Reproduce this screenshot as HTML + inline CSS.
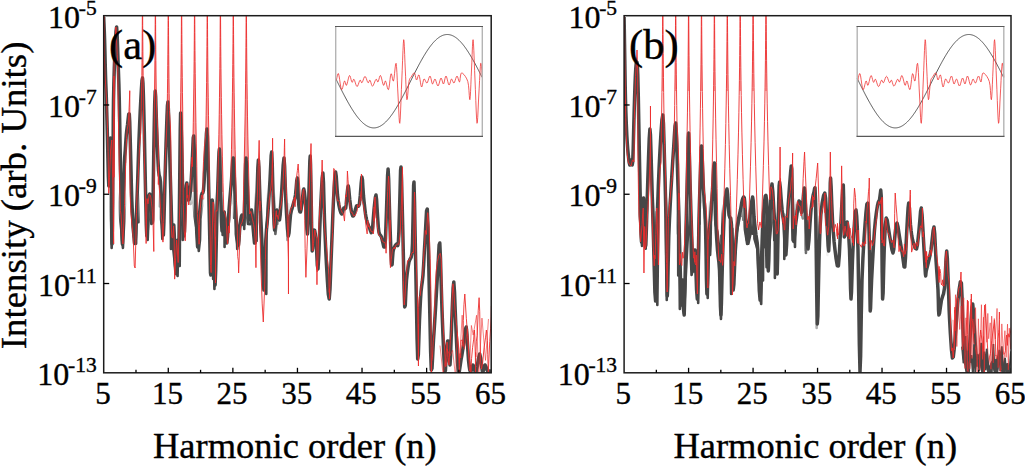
<!DOCTYPE html>
<html><head><meta charset="utf-8"><style>
html,body{margin:0;padding:0;background:#fff;width:1025px;height:466px;overflow:hidden}
svg{display:block}
</style></head><body>
<svg width="1025" height="466" viewBox="0 0 1025 466">
<defs>
<clipPath id="c0"><rect x="103.7" y="15.7" width="387.5" height="357.1"/></clipPath>
<linearGradient id="gv0" x1="0" y1="192" x2="0" y2="222" gradientUnits="userSpaceOnUse"><stop offset="0" stop-color="#fff" stop-opacity="0"/><stop offset="1" stop-color="#fff" stop-opacity="1"/></linearGradient>
<linearGradient id="gh0" x1="108" y1="0" x2="300" y2="0" gradientUnits="userSpaceOnUse"><stop offset="0" stop-color="#fff" stop-opacity="1"/><stop offset="0.85" stop-color="#fff" stop-opacity="1"/><stop offset="1" stop-color="#fff" stop-opacity="0"/></linearGradient>
<mask id="v0" maskUnits="userSpaceOnUse" x="0" y="0" width="1025" height="466"><rect x="108" y="192" width="192" height="180.8" fill="url(#gv0)"/></mask>
<mask id="h0" maskUnits="userSpaceOnUse" x="0" y="0" width="1025" height="466"><rect x="108" y="0" width="192" height="466" fill="url(#gh0)"/></mask>
<clipPath id="c1"><rect x="624.1" y="15.7" width="386.9" height="357.1"/></clipPath>
<linearGradient id="gv1" x1="0" y1="197" x2="0" y2="227" gradientUnits="userSpaceOnUse"><stop offset="0" stop-color="#fff" stop-opacity="0"/><stop offset="1" stop-color="#fff" stop-opacity="1"/></linearGradient>
<linearGradient id="gh1" x1="628" y1="0" x2="830" y2="0" gradientUnits="userSpaceOnUse"><stop offset="0" stop-color="#fff" stop-opacity="1"/><stop offset="0.85" stop-color="#fff" stop-opacity="1"/><stop offset="1" stop-color="#fff" stop-opacity="0"/></linearGradient>
<mask id="v1" maskUnits="userSpaceOnUse" x="0" y="0" width="1025" height="466"><rect x="628" y="197" width="202" height="175.8" fill="url(#gv1)"/></mask>
<mask id="h1" maskUnits="userSpaceOnUse" x="0" y="0" width="1025" height="466"><rect x="628" y="0" width="202" height="466" fill="url(#gh1)"/></mask>
</defs>
<g clip-path="url(#c0)">
<path d="M103.72,19.00 L103.75,13.00 L103.78,7.00 L103.81,1.00 L103.83,-5.00 L103.84,-11.00 L103.86,-17.00 L103.87,-23.00 L103.88,-29.00 L103.88,-30.00 L103.92,-30.00 L103.92,-29.00 L103.93,-23.00 L103.94,-17.00 L103.96,-11.00 L103.97,-5.00 L103.99,1.00 L104.02,7.00 L104.05,13.00 L104.08,19.00Z" fill="#f5a3a3"/>
<path d="M141.81,80.00 L141.95,66.80 L142.07,55.18 L142.15,44.96 L142.22,35.97 L142.27,28.05 L142.31,21.08 L142.35,14.95 L142.37,8.95 L142.40,2.95 L142.42,-3.05 L142.44,-9.05 L142.45,-15.05 L142.47,-21.05 L142.48,-27.05 L142.48,-30.00 L142.52,-30.00 L142.52,-27.05 L142.53,-21.05 L142.55,-15.05 L142.56,-9.05 L142.58,-3.05 L142.60,2.95 L142.63,8.95 L142.65,14.95 L142.69,21.08 L142.73,28.05 L142.78,35.97 L142.85,44.96 L142.93,55.18 L143.05,66.80 L143.19,80.00Z" fill="#f5a3a3"/>
<path d="M154.54,93.00 L154.73,78.24 L154.87,65.25 L154.98,53.82 L155.06,43.76 L155.13,34.91 L155.18,27.12 L155.22,20.27 L155.25,14.24 L155.28,8.24 L155.30,2.24 L155.32,-3.76 L155.34,-9.76 L155.36,-15.76 L155.37,-21.76 L155.38,-27.76 L155.38,-30.00 L155.42,-30.00 L155.42,-27.76 L155.43,-21.76 L155.44,-15.76 L155.46,-9.76 L155.48,-3.76 L155.50,2.24 L155.52,8.24 L155.55,14.24 L155.58,20.27 L155.62,27.12 L155.67,34.91 L155.74,43.76 L155.82,53.82 L155.93,65.25 L156.07,78.24 L156.26,93.00Z" fill="#f5a3a3"/>
<path d="M167.29,104.00 L167.51,87.92 L167.68,73.77 L167.81,61.32 L167.91,50.36 L167.99,40.72 L168.05,32.23 L168.09,24.76 L168.13,18.19 L168.16,12.19 L168.19,6.19 L168.21,0.19 L168.23,-5.81 L168.25,-11.81 L168.26,-17.81 L168.27,-23.81 L168.28,-29.81 L168.28,-30.00 L168.32,-30.00 L168.32,-29.81 L168.33,-23.81 L168.34,-17.81 L168.35,-11.81 L168.37,-5.81 L168.39,0.19 L168.41,6.19 L168.44,12.19 L168.47,18.19 L168.51,24.76 L168.55,32.23 L168.61,40.72 L168.69,50.36 L168.79,61.32 L168.92,73.77 L169.09,87.92 L169.31,104.00Z" fill="#f5a3a3"/>
<path d="M179.50,162.00 L179.99,138.96 L180.35,118.68 L180.63,100.84 L180.84,85.14 L181.01,71.32 L181.13,59.17 L181.22,48.47 L181.30,39.05 L181.36,30.76 L181.40,23.47 L181.43,17.06 L181.46,11.06 L181.49,5.06 L181.51,-0.94 L181.53,-6.94 L181.55,-12.94 L181.56,-18.94 L181.58,-24.94 L181.58,-30.00 L181.62,-30.00 L181.62,-24.94 L181.64,-18.94 L181.65,-12.94 L181.67,-6.94 L181.69,-0.94 L181.71,5.06 L181.74,11.06 L181.77,17.06 L181.80,23.47 L181.84,30.76 L181.90,39.05 L181.98,48.47 L182.07,59.17 L182.19,71.32 L182.36,85.14 L182.57,100.84 L182.85,118.68 L183.21,138.96 L183.70,162.00Z" fill="#f5a3a3"/>
<path d="M191.76,192.00 L192.43,165.36 L192.93,141.92 L193.31,121.29 L193.60,103.13 L193.82,87.16 L193.99,73.10 L194.11,60.73 L194.21,49.84 L194.29,40.26 L194.35,31.83 L194.39,24.41 L194.43,17.88 L194.46,11.88 L194.49,5.88 L194.51,-0.12 L194.53,-6.12 L194.55,-12.12 L194.56,-18.12 L194.57,-24.12 L194.58,-30.00 L194.62,-30.00 L194.63,-24.12 L194.64,-18.12 L194.65,-12.12 L194.67,-6.12 L194.69,-0.12 L194.71,5.88 L194.74,11.88 L194.77,17.88 L194.81,24.41 L194.85,31.83 L194.91,40.26 L194.99,49.84 L195.09,60.73 L195.21,73.10 L195.38,87.16 L195.60,103.13 L195.89,121.29 L196.27,141.92 L196.77,165.36 L197.44,192.00Z" fill="#f5a3a3"/>
<path d="M205.84,131.00 L206.17,111.68 L206.42,94.68 L206.61,79.72 L206.76,66.55 L206.87,54.96 L206.95,44.77 L207.02,35.80 L207.07,27.90 L207.11,20.95 L207.15,14.84 L207.17,8.84 L207.20,2.84 L207.22,-3.16 L207.24,-9.16 L207.25,-15.16 L207.27,-21.16 L207.28,-27.16 L207.28,-30.00 L207.32,-30.00 L207.32,-27.16 L207.33,-21.16 L207.35,-15.16 L207.36,-9.16 L207.38,-3.16 L207.40,2.84 L207.43,8.84 L207.45,14.84 L207.49,20.95 L207.53,27.90 L207.58,35.80 L207.65,44.77 L207.73,54.96 L207.84,66.55 L207.99,79.72 L208.18,94.68 L208.43,111.68 L208.76,131.00Z" fill="#f5a3a3"/>
<path d="M217.56,192.00 L218.23,165.36 L218.73,141.92 L219.11,121.29 L219.40,103.13 L219.62,87.16 L219.79,73.10 L219.91,60.73 L220.01,49.84 L220.09,40.26 L220.15,31.83 L220.19,24.41 L220.23,17.88 L220.26,11.88 L220.29,5.88 L220.31,-0.12 L220.33,-6.12 L220.35,-12.12 L220.36,-18.12 L220.37,-24.12 L220.38,-30.00 L220.42,-30.00 L220.43,-24.12 L220.44,-18.12 L220.45,-12.12 L220.47,-6.12 L220.49,-0.12 L220.51,5.88 L220.54,11.88 L220.57,17.88 L220.61,24.41 L220.65,31.83 L220.71,40.26 L220.79,49.84 L220.89,60.73 L221.01,73.10 L221.18,87.16 L221.40,103.13 L221.69,121.29 L222.07,141.92 L222.57,165.36 L223.24,192.00Z" fill="#f5a3a3"/>
<path d="M231.25,160.00 L231.72,137.20 L232.08,117.14 L232.35,99.48 L232.56,83.94 L232.72,70.27 L232.84,58.24 L232.93,47.65 L233.00,38.33 L233.06,30.13 L233.10,22.92 L233.14,16.57 L233.17,10.57 L233.19,4.57 L233.21,-1.43 L233.23,-7.43 L233.25,-13.43 L233.26,-19.43 L233.28,-25.43 L233.28,-30.00 L233.32,-30.00 L233.32,-25.43 L233.34,-19.43 L233.35,-13.43 L233.37,-7.43 L233.39,-1.43 L233.41,4.57 L233.43,10.57 L233.46,16.57 L233.50,22.92 L233.54,30.13 L233.60,38.33 L233.67,47.65 L233.76,58.24 L233.88,70.27 L234.04,83.94 L234.25,99.48 L234.52,117.14 L234.88,137.20 L235.35,160.00Z" fill="#f5a3a3"/>
<path d="M244.25,160.00 L244.72,137.20 L245.08,117.14 L245.35,99.48 L245.56,83.94 L245.72,70.27 L245.84,58.24 L245.93,47.65 L246.00,38.33 L246.06,30.13 L246.10,22.92 L246.14,16.57 L246.17,10.57 L246.19,4.57 L246.21,-1.43 L246.23,-7.43 L246.25,-13.43 L246.26,-19.43 L246.28,-25.43 L246.28,-30.00 L246.32,-30.00 L246.32,-25.43 L246.34,-19.43 L246.35,-13.43 L246.37,-7.43 L246.39,-1.43 L246.41,4.57 L246.43,10.57 L246.46,16.57 L246.50,22.92 L246.54,30.13 L246.60,38.33 L246.67,47.65 L246.76,58.24 L246.88,70.27 L247.04,83.94 L247.25,99.48 L247.52,117.14 L247.88,137.20 L248.35,160.00Z" fill="#f5a3a3"/>
<path d="M103.70,17.00 L103.93,22.52 L104.27,30.59 L104.60,40.00 L104.90,51.15 L105.20,63.63 L105.50,75.00 L105.79,83.52 L106.09,90.93 L106.40,100.00 L106.74,112.00 L107.11,125.67 L107.50,140.00 L107.92,157.93 L108.37,176.52 L108.80,186.00 L109.23,179.11 L109.64,163.11 L110.00,150.00 L110.27,142.52 L110.49,137.93 L110.70,140.00 L110.93,152.07 L111.17,170.81 L111.40,190.00 L111.63,212.81 L111.85,236.07 L112.10,244.00 L112.40,225.33 L112.72,191.33 L113.00,160.00 L113.17,137.67 L113.29,118.00 L113.50,100.00 L113.86,83.26 L114.30,68.19 L114.80,55.00 L115.38,42.15 L116.01,31.19 L116.60,27.00 L117.10,33.22 L117.56,46.22 L118.00,60.00 L118.44,71.70 L118.88,84.19 L119.30,100.00 L119.71,122.04 L120.12,147.41 L120.50,170.00 L120.85,187.44 L121.18,202.11 L121.50,215.00 L121.80,228.56 L122.10,240.33 L122.40,244.00 L122.73,234.48 L123.06,216.85 L123.40,200.00 L123.74,186.26 L124.07,173.30 L124.40,163.00 L124.70,156.96 L125.00,153.59 L125.30,150.00 L125.62,144.96 L125.95,139.70 L126.30,135.00 L126.66,131.33 L127.05,128.22 L127.50,125.00 L128.08,119.67 L128.72,114.22 L129.30,114.00 L129.74,122.00 L130.11,135.22 L130.50,150.00 L130.91,166.37 L131.33,184.30 L131.80,200.00 L132.34,212.11 L132.93,222.00 L133.50,230.00 L134.03,237.67 L134.55,243.44 L135.10,243.00 L135.71,233.44 L136.35,217.67 L137.00,200.00 L137.67,180.52 L138.34,159.15 L139.00,140.00 L139.62,124.52 L140.21,111.26 L140.80,100.00 L141.39,89.33 L141.97,80.67 L142.50,78.00 L142.96,83.26 L143.37,94.52 L143.80,110.00 L144.29,131.04 L144.79,156.30 L145.30,180.00 L145.79,203.11 L146.29,224.67 L146.80,236.00 L147.35,229.67 L147.92,213.11 L148.50,200.00 L149.11,195.30 L149.74,194.04 L150.30,195.00 L150.74,198.70 L151.12,204.63 L151.50,210.00 L151.90,216.67 L152.31,222.78 L152.70,220.00 L153.06,202.19 L153.41,175.48 L153.80,150.00 L154.24,125.89 L154.71,103.00 L155.20,91.00 L155.68,96.70 L156.17,113.30 L156.70,130.00 L157.27,144.30 L157.87,158.70 L158.50,170.00 L159.17,175.30 L159.86,177.48 L160.50,182.00 L161.04,191.93 L161.53,204.19 L162.00,215.00 L162.47,225.41 L162.92,234.37 L163.40,235.00 L163.92,222.04 L164.47,200.74 L165.00,180.00 L165.51,162.15 L166.01,144.85 L166.50,130.00 L166.97,116.59 L167.44,105.63 L167.90,102.00 L168.36,108.96 L168.81,123.26 L169.30,140.00 L169.85,158.93 L170.44,180.30 L171.00,200.00 L171.52,218.52 L172.02,235.37 L172.50,245.00 L172.94,240.93 L173.36,229.63 L173.80,225.00 L174.29,235.11 L174.81,251.89 L175.30,265.00 L175.75,271.22 L176.18,273.78 L176.60,272.00 L177.02,262.22 L177.43,248.11 L177.80,240.00 L178.09,246.81 L178.33,259.63 L178.60,262.00 L178.92,245.15 L179.26,217.85 L179.60,190.00 L179.92,160.11 L180.24,129.67 L180.60,113.00 L181.02,118.41 L181.48,137.59 L182.00,160.00 L182.61,187.33 L183.27,217.89 L183.90,236.00 L184.47,231.59 L185.00,214.74 L185.50,200.00 L185.94,191.67 L186.35,185.44 L186.80,183.00 L187.33,187.15 L187.90,195.07 L188.50,200.00 L189.15,199.41 L189.84,195.81 L190.50,190.00 L191.13,181.26 L191.74,170.30 L192.30,160.00 L192.79,148.67 L193.23,138.00 L193.70,136.00 L194.19,148.11 L194.71,168.89 L195.30,190.00 L196.03,212.07 L196.84,234.48 L197.60,247.00 L198.26,242.48 L198.87,228.07 L199.50,215.00 L200.16,206.89 L200.83,200.11 L201.50,195.00 L202.17,193.15 L202.85,192.96 L203.50,190.00 L204.12,181.89 L204.72,171.00 L205.30,160.00 L205.86,147.07 L206.39,134.04 L206.90,129.00 L207.38,136.26 L207.83,151.52 L208.30,170.00 L208.81,192.48 L209.33,218.19 L209.80,240.00 L210.16,258.33 L210.46,272.78 L210.80,275.00 L211.24,253.89 L211.73,220.56 L212.20,200.00 L212.63,204.63 L213.05,222.04 L213.50,240.00 L214.01,258.70 L214.55,277.96 L215.10,285.00 L215.67,270.74 L216.25,244.26 L216.80,220.00 L217.30,202.81 L217.76,187.85 L218.20,175.00 L218.61,162.44 L219.01,152.00 L219.40,149.00 L219.79,157.70 L220.19,173.85 L220.60,190.00 L221.02,205.89 L221.47,221.78 L222.00,231.00 L222.66,227.26 L223.41,216.85 L224.20,212.00 L225.05,221.00 L225.95,235.56 L226.80,243.00 L227.55,236.63 L228.26,223.15 L229.00,210.00 L229.84,199.48 L230.71,189.30 L231.50,180.00 L232.15,169.70 L232.72,160.30 L233.30,158.00 L233.94,167.70 L234.59,184.52 L235.20,200.00 L235.75,211.44 L236.27,221.56 L236.80,230.00 L237.37,237.41 L237.94,243.15 L238.50,245.00 L239.00,240.56 L239.47,232.22 L240.00,225.00 L240.64,220.19 L241.33,216.48 L242.00,215.00 L242.64,218.52 L243.25,224.26 L243.80,225.00 L244.25,216.56 L244.64,203.11 L245.00,190.00 L245.33,176.74 L245.64,163.81 L246.00,158.00 L246.45,164.00 L246.96,177.11 L247.50,190.00 L248.06,201.63 L248.66,213.04 L249.30,220.00 L250.02,218.52 L250.78,212.59 L251.50,210.00 L252.13,214.70 L252.71,222.74 L253.30,230.00 L253.90,236.93 L254.51,243.07 L255.10,243.00 L255.68,232.70 L256.24,216.19 L256.80,200.00 L257.34,183.48 L257.87,167.30 L258.40,160.00 L258.93,167.41 L259.45,183.70 L260.00,200.00 L260.57,212.96 L261.17,225.93 L261.80,240.00 L262.49,259.63 L263.20,280.37 L263.90,290.00 L264.54,279.81 L265.17,258.52 L265.80,240.00 L266.45,230.19 L267.11,223.15 L267.80,215.00 L268.54,203.81 L269.30,191.52 L270.00,180.00 L270.61,167.33 L271.17,155.44 L271.70,152.00 L272.22,163.04 L272.71,182.52 L273.20,200.00 L273.64,213.19 L274.08,224.37 L274.60,230.00 L275.26,225.93 L276.00,216.30 L276.80,210.00 L277.69,212.41 L278.63,218.15 L279.50,220.00 L280.20,214.70 L280.82,205.52 L281.50,195.00 L282.32,180.63 L283.20,164.93 L284.00,158.00 L284.63,166.37 L285.17,183.52 L285.80,200.00 L286.59,214.56 L287.46,228.44 L288.30,236.00 L289.04,232.81 L289.76,223.30 L290.50,215.00 L291.31,210.85 L292.16,207.93 L293.00,205.00 L293.86,201.93 L294.72,198.85 L295.50,195.00 L296.16,188.22 L296.75,180.67 L297.30,178.00 L297.81,184.48 L298.30,195.85 L298.80,205.00 L299.35,209.52 L299.92,211.81 L300.50,212.00 L301.10,209.37 L301.72,204.63 L302.30,200.00 L302.81,195.26 L303.29,190.63 L303.80,189.00 L304.37,191.85 L304.98,197.70 L305.60,205.00 L306.24,216.41 L306.89,229.26 L307.50,234.00 L308.04,224.37 L308.54,206.63 L309.00,190.00 L309.43,175.04 L309.83,161.19 L310.20,156.00 L310.55,164.63 L310.87,181.93 L311.20,200.00 L311.50,219.15 L311.81,239.07 L312.20,251.00 L312.73,248.19 L313.36,237.37 L314.00,230.00 L314.65,230.33 L315.33,234.11 L316.00,240.00 L316.65,251.52 L317.30,265.15 L318.00,269.00 L318.80,255.04 L319.66,231.30 L320.50,210.00 L321.34,192.93 L322.16,178.30 L322.90,173.00 L323.48,182.52 L323.97,201.37 L324.50,220.00 L325.11,235.56 L325.77,250.89 L326.50,265.00 L327.36,280.22 L328.30,294.22 L329.20,299.00 L330.01,288.85 L330.77,269.48 L331.50,250.00 L332.19,232.59 L332.84,215.07 L333.50,200.00 L334.20,187.15 L334.91,176.74 L335.60,172.00 L336.24,176.26 L336.87,186.19 L337.50,195.00 L338.15,200.33 L338.81,204.56 L339.50,208.00 L340.26,210.96 L341.04,213.15 L341.80,214.00 L342.49,212.67 L343.15,210.00 L343.80,208.00 L344.46,208.04 L345.11,208.74 L345.70,208.00 L346.18,204.48 L346.59,199.52 L347.00,195.00 L347.43,190.85 L347.85,187.15 L348.30,186.00 L348.78,189.04 L349.28,194.63 L349.80,200.00 L350.34,204.44 L350.90,208.67 L351.50,212.00 L352.11,214.44 L352.75,216.00 L353.50,216.00 L354.43,213.41 L355.47,209.26 L356.50,206.00 L357.49,205.67 L358.47,206.22 L359.40,204.00 L360.30,195.15 L361.15,183.52 L361.90,177.00 L362.49,179.96 L362.97,188.04 L363.50,196.00 L364.15,202.44 L364.84,208.78 L365.50,214.00 L366.07,217.48 L366.60,219.85 L367.20,222.00 L367.91,224.22 L368.70,226.22 L369.50,228.00 L370.34,230.44 L371.20,232.67 L372.00,232.00 L372.70,226.33 L373.35,217.78 L374.00,210.00 L374.69,203.19 L375.37,197.15 L376.00,195.00 L376.54,199.19 L377.03,207.26 L377.50,215.00 L377.93,221.33 L378.35,227.33 L378.90,232.00 L379.65,234.37 L380.54,235.41 L381.50,237.00 L382.61,241.70 L383.79,246.96 L384.80,247.00 L385.49,238.30 L386.00,224.37 L386.50,210.00 L387.04,193.22 L387.56,176.00 L388.10,169.00 L388.66,179.41 L389.22,200.04 L389.80,220.00 L390.41,237.59 L391.03,254.52 L391.60,265.00 L392.09,264.67 L392.54,257.89 L393.00,252.00 L393.47,249.67 L393.96,248.22 L394.50,247.00 L395.13,245.81 L395.82,244.85 L396.50,244.00 L397.16,244.74 L397.81,245.59 L398.40,242.00 L398.91,230.63 L399.37,214.81 L399.80,200.00 L400.19,184.78 L400.56,170.56 L401.00,167.00 L401.55,180.37 L402.17,204.41 L402.80,230.00 L403.43,258.48 L404.07,288.52 L404.70,307.00 L405.28,305.37 L405.85,292.19 L406.50,280.00 L407.26,273.00 L408.10,267.00 L409.00,262.00 L410.04,259.22 L411.13,257.44 L412.00,253.00 L412.48,243.96 L412.74,232.26 L413.00,220.00 L413.30,203.04 L413.61,185.52 L414.00,182.00 L414.54,201.96 L415.16,235.93 L415.80,270.00 L416.43,304.33 L417.07,338.78 L417.70,359.00 L418.32,355.07 L418.93,336.93 L419.50,320.00 L420.00,309.44 L420.47,300.11 L421.00,292.00 L421.63,286.19 L422.31,281.59 L423.00,275.00 L423.66,264.52 L424.31,252.04 L425.00,240.00 L425.76,225.22 L426.54,210.89 L427.30,209.00 L427.99,227.74 L428.64,258.93 L429.30,290.00 L429.96,320.81 L430.62,351.52 L431.30,370.00 L432.01,368.37 L432.75,354.52 L433.50,340.00 L434.27,328.37 L435.05,316.07 L435.80,304.00 L436.49,292.26 L437.14,280.74 L437.80,270.00 L438.46,257.00 L439.12,244.78 L439.80,243.00 L440.50,258.56 L441.21,284.56 L442.00,310.00 L442.93,334.15 L443.93,357.74 L444.80,372.00 L445.45,370.41 L445.97,359.48 L446.50,350.00 L447.06,344.81 L447.63,341.07 L448.20,341.00 L448.79,349.11 L449.40,360.89 L450.00,365.00 L450.59,354.85 L451.19,337.04 L451.80,320.00 L452.44,303.63 L453.11,288.04 L453.80,282.00 L454.51,291.85 L455.25,311.26 L456.00,330.00 L456.74,346.44 L457.50,362.22 L458.30,372.00 L459.18,372.11 L460.10,366.22 L461.00,360.00 L461.84,355.33 L462.66,350.33 L463.50,345.00 L464.40,337.33 L465.32,329.33 L466.20,327.00 L467.01,335.00 L467.77,348.67 L468.50,360.00 L469.17,366.26 L469.81,370.19 L470.50,372.00 L471.28,370.56 L472.11,367.00 L473.00,365.00 L473.94,367.22 L474.93,371.00 L476.00,372.00 L477.21,366.52 L478.51,358.26 L479.70,354.00 L480.71,358.26 L481.62,366.52 L482.50,372.00 L483.34,371.00 L484.14,367.22 L485.00,365.00 L485.96,366.63 L486.97,369.81 L488.00,372.00 L489.17,371.93 L490.36,370.85 L491.20,370.00" fill="none" stroke="#474747" stroke-width="3.5" stroke-linejoin="round"/>
<g mask="url(#h0)"><g mask="url(#v0)"><path d="M104.71,20.59 L105.76,133.01 L106.34,44.00 L106.50,104.00 L106.75,50.99 L106.78,183.18 L106.80,100.28 L107.10,79.00 L107.35,190.00 L109.00,158.29 L109.40,154.00 L109.99,144.00 L110.54,194.00 L111.65,248.00 L113.99,164.00 L114.81,132.62 L116.29,31.00 L116.41,49.66 L116.48,38.20 L116.82,70.43 L116.87,59.00 L117.72,64.00 L118.17,104.00 L118.32,174.00 L120.26,219.00 L122.92,248.00 L124.14,222.63 L124.93,204.00 L125.41,181.36 L125.51,167.00 L126.10,154.00 L127.30,118.00 L127.45,121.54 L127.54,139.00 L127.94,137.89 L128.53,129.00 L128.70,154.00 L130.53,180.89 L131.49,204.00 L132.35,215.97 L133.25,234.00 L136.10,243.69 L137.66,154.70 L137.99,144.00 L138.27,195.73 L138.47,222.22 L138.51,204.00 L138.88,124.93 L139.99,104.00 L140.30,83.26 L140.66,82.00 L142.27,98.59 L143.73,114.00 L145.78,146.46 L147.26,184.00 L147.55,202.99 L147.68,240.00 L148.82,209.07 L149.13,214.00 L149.34,204.00 L149.47,199.00 L149.93,203.49 L151.36,224.00 L153.99,154.00 L154.47,140.55 L155.50,95.00 L157.41,126.28 L159.08,186.00 L159.08,187.13 L159.84,158.81 L159.88,206.53 L160.11,171.82 L160.32,174.00 L161.02,219.00 L161.70,225.08 L162.32,239.00 L162.45,227.95 L163.88,182.80 L167.22,148.52 L168.28,134.00 L169.50,126.62 L169.53,117.75 L169.55,144.00 L169.68,106.00 L169.84,162.38 L170.96,237.58 L170.97,249.00 L171.15,195.88 L171.19,239.25 L171.56,229.00 L173.19,248.41 L175.45,269.00 L176.38,266.35 L177.59,276.00 L177.79,264.65 L178.49,244.00 L178.87,252.94 L179.71,266.00 L180.55,164.00 L180.73,153.76 L180.97,196.76 L181.00,217.92 L181.44,194.00 L181.82,123.06 L182.78,240.00 L184.64,213.36 L185.74,193.22 L186.27,187.00 L188.56,196.99 L190.61,204.00 L191.03,183.97 L191.16,194.00 L191.28,202.60 L191.42,199.74 L191.94,164.00 L192.86,179.43 L192.99,141.46 L193.12,194.00 L194.58,216.59 L198.04,238.66 L198.76,251.00 L200.00,239.81 L200.42,219.00 L202.04,205.61 L202.25,173.49 L202.54,191.61 L202.90,199.00 L203.30,198.30 L203.54,164.00 L204.45,157.45 L206.73,129.19 L207.83,167.40 L209.93,225.10 L211.20,244.00 L212.44,226.29 L212.53,244.00 L212.74,263.64 L212.92,204.00 L213.14,257.46 L213.17,279.00 L213.32,231.17 L214.42,289.00 L214.94,232.86 L215.03,224.00 L216.15,195.31 L217.40,179.00 L219.51,161.80 L220.87,153.00 L222.06,176.62 L222.36,194.00 L222.41,215.57 L222.64,235.00 L223.11,233.26 L223.81,234.50 L224.38,220.05 L224.53,217.60 L224.58,247.00 L224.71,216.00 L225.69,240.99 L228.63,224.89 L229.41,214.00 L230.06,204.63 L231.45,188.20 L232.69,184.00 L233.83,204.00 L233.99,174.67 L234.08,190.71 L234.17,217.91 L235.09,158.71 L235.83,234.00 L237.06,243.72 L237.24,249.00 L237.98,242.80 L239.45,229.00 L240.89,222.57 L243.89,216.35 L244.22,229.00 L244.25,219.00 L244.33,222.94 L244.39,219.56 L245.21,194.00 L245.56,186.67 L245.65,194.00 L246.11,162.00 L246.12,171.96 L247.01,215.58 L248.05,224.00 L250.29,224.25 L252.30,214.66 L253.18,223.50 L254.35,234.00 L255.11,239.91 L255.31,204.00 L255.38,192.36 L255.86,221.10 L256.62,240.95 L257.01,164.00 L259.11,195.42 L259.36,204.00 L260.04,222.96 L261.54,244.00 L262.30,252.86 L265.44,276.74 L265.76,248.07 L266.27,294.00 L266.37,281.79 L266.50,227.98 L267.49,219.00 L267.61,198.32 L267.68,209.95 L267.82,184.00 L268.51,174.17 L271.77,159.76 L274.42,190.35 L274.72,204.00 L275.11,220.71 L275.41,234.00 L276.24,226.58 L276.85,219.02 L277.28,224.00 L277.68,214.82 L277.89,212.02 L278.05,214.00 L278.37,219.52 L280.96,197.03 L282.27,187.74 L283.86,166.74 L284.53,162.00 L286.77,185.35 L287.32,240.00 L287.41,223.60 L288.13,204.00 L288.21,204.83 L289.01,227.16 L289.59,219.00 L289.66,218.02 L290.28,210.05 L292.25,209.00 L293.15,204.79 L296.32,205.56 L297.16,199.00 L297.51,183.05 L297.92,182.00 L298.57,213.19 L298.95,200.31 L299.39,206.57 L299.46,209.00 L299.61,207.98 L301.06,204.00 L302.60,200.12 L304.22,193.00 L304.53,192.82 L305.64,206.35 L306.10,209.00 L307.97,222.76 L308.65,160.78 L309.21,201.49 L309.68,238.00 L310.00,204.00 L311.40,255.00 L311.64,256.49 L312.30,241.84 L312.64,234.00 L314.57,234.22 L317.72,244.00 L318.98,260.74 L319.05,273.00 L319.23,266.33 L319.89,234.08 L320.48,189.02 L320.54,177.00 L320.73,214.00 L320.91,202.84 L321.03,191.71 L324.05,219.98 L326.68,254.74 L327.37,269.00 L327.63,270.37 L329.18,285.42 L330.11,254.00 L331.02,274.47 L331.05,303.00 L331.26,216.29 L332.43,204.00 L333.44,194.21 L334.50,179.27 L334.74,176.00 L336.15,190.18 L338.83,199.00 L340.67,212.42 L340.87,219.08 L341.04,212.00 L341.16,205.41 L341.43,218.00 L342.21,213.39 L342.46,213.57 L342.72,213.78 L344.27,212.00 L345.42,209.05 L347.98,199.00 L348.63,197.26 L349.68,190.00 L350.51,204.90 L351.71,219.54 L352.26,208.70 L352.41,214.53 L352.74,215.80 L352.80,216.00 L355.03,215.66 L356.34,210.00 L356.74,208.36 L357.96,210.99 L360.64,206.96 L362.00,191.30 L362.50,184.25 L362.51,200.00 L362.85,199.40 L363.31,200.64 L364.37,215.28 L364.67,218.89 L365.61,226.00 L366.83,222.95 L370.32,226.56 L371.44,232.00 L371.89,228.58 L372.05,230.88 L372.61,236.00 L373.25,225.92 L373.55,208.34 L373.62,199.00 L374.19,214.00 L374.25,220.38 L376.44,219.48 L378.90,231.58 L379.32,236.00 L379.98,240.74 L381.92,235.45 L383.24,241.00 L383.37,253.16 L383.39,251.00 L384.27,239.16 L384.33,230.19 L384.34,243.03 L385.61,214.00 L386.10,204.61 L386.81,168.88 L388.39,209.40 L389.72,224.00 L391.78,243.41 L393.79,256.45 L393.84,269.00 L394.24,250.02 L394.70,251.00 L395.34,248.62 L395.45,243.83 L395.53,246.16 L396.45,246.00 L397.76,232.02 L400.23,204.00 L400.86,191.27 L401.97,171.00 L402.16,180.89 L403.32,219.19 L403.82,234.00 L404.82,284.00 L404.97,294.82 L405.40,280.23 L405.45,274.87 L406.16,311.00 L407.63,269.80 L408.38,266.00 L409.01,265.31 L410.20,260.55 L412.84,257.00 L415.28,224.00 L415.37,269.94 L415.67,207.02 L415.69,214.07 L415.92,186.00 L416.60,330.00 L417.20,326.79 L417.24,363.00 L417.29,350.54 L419.12,306.68 L420.58,296.00 L422.58,287.14 L424.36,278.66 L424.92,255.98 L426.02,244.00 L426.50,243.46 L426.65,274.07 L426.76,229.47 L427.16,213.00 L427.23,294.00 L427.62,226.15 L428.97,326.85 L431.15,378.87 L432.23,356.51 L433.98,344.00 L436.73,283.82 L436.84,274.00 L437.20,323.92 L437.57,302.91 L437.57,266.64 L437.73,308.00 L438.97,248.37 L439.27,279.59 L440.44,314.00 L444.09,343.04 L446.45,374.27 L446.64,376.00 L446.73,367.28 L447.10,354.00 L447.53,354.75 L448.13,369.00 L448.16,360.81 L448.62,354.98 L448.90,346.42 L450.23,325.78 L453.10,303.25 L454.20,286.00 L454.44,293.17 L455.93,314.26 L457.42,334.00 L458.32,371.58 L458.47,345.20 L458.58,366.60 L458.89,376.00 L459.36,368.50 L459.97,364.00 L460.42,365.33 L461.41,352.93 L462.13,349.00 L465.47,342.59 L468.32,329.99 L468.67,350.30 L468.69,359.88 L469.93,370.43 L469.97,373.44 L470.40,371.41 L470.46,376.00 L470.86,369.00 L471.53,365.89 L474.83,373.05 L476.68,372.26 L476.89,376.00 L477.59,370.49 L479.58,362.52 L479.75,367.56 L480.08,366.02 L480.84,358.00 L480.91,376.00 L480.94,357.64 L481.70,377.45 L483.50,376.11 L484.16,369.00 L484.45,373.85 L486.85,374.42 L489.93,372.37 L490.06,374.87 L490.38,376.00 L490.65,378.99 L490.80,374.00" fill="none" stroke="#474747" stroke-width="2.6" stroke-linejoin="round"/></g></g>
<path d="M102.00,15.17 L102.96,36.21 L103.46,55.42 L103.55,45.17 L103.62,36.15 L103.67,28.21 L103.71,21.23 L103.74,15.08 L103.77,9.08 L103.80,3.08 L103.82,-2.92 L103.84,-8.92 L103.85,-14.92 L103.87,-20.92 L103.88,-26.92 L103.88,-30.00 L103.92,-30.00 L103.92,-26.92 L103.93,-20.92 L103.95,-14.92 L103.96,-8.92 L103.98,-2.92 L104.00,3.08 L104.03,9.08 L104.06,15.08 L104.09,21.23 L104.13,28.21 L104.18,36.15 L104.25,45.17 L104.34,55.42 L105.01,75.00 L105.57,84.09 L106.55,100.00 L107.52,128.75 L107.79,140.00 L108.12,151.66 L108.72,193.48 L109.52,177.26 L110.60,150.00 L111.81,140.00 L112.91,190.00 L113.67,244.00 L113.96,76.05 L113.99,177.26 L114.00,100.00 L114.10,55.00 L114.70,51.68 L115.53,32.77 L115.93,27.00 L116.45,38.61 L117.22,54.58 L117.48,60.00 L117.75,71.32 L118.12,95.76 L118.56,129.19 L119.31,170.00 L120.45,210.56 L121.05,215.00 L121.89,228.90 L122.95,244.00 L124.56,204.44 L125.37,177.90 L125.66,163.00 L125.82,163.05 L126.09,150.00 L126.56,138.47 L127.23,129.19 L128.09,125.00 L128.94,111.86 L129.56,96.98 L129.75,90.70 L129.82,107.79 L129.83,139.91 L129.83,169.47 L130.10,193.68 L130.80,212.19 L131.89,224.14 L132.61,230.00 L133.16,237.22 L134.32,266.08 L135.11,268.00 L135.87,239.29 L136.46,213.55 L136.85,200.00 L137.20,191.62 L138.23,176.09 L139.50,147.39 L140.06,140.00 L140.77,132.92 L141.86,75.46 L141.99,62.80 L142.10,51.66 L142.18,41.86 L142.24,33.24 L142.29,25.65 L142.32,18.97 L142.35,12.97 L142.38,6.97 L142.41,0.97 L142.43,-5.03 L142.44,-11.03 L142.46,-17.03 L142.47,-23.03 L142.48,-29.03 L142.48,-30.00 L142.52,-30.00 L142.52,-29.03 L142.53,-23.03 L142.54,-17.03 L142.56,-11.03 L142.57,-5.03 L142.59,0.97 L142.62,6.97 L142.65,12.97 L142.68,18.97 L142.71,25.65 L142.76,33.24 L142.82,41.86 L142.90,51.66 L143.01,62.80 L143.14,75.46 L143.72,140.20 L144.58,167.06 L144.94,180.00 L145.36,196.04 L145.90,224.18 L146.10,243.50 L146.22,240.52 L146.51,219.91 L147.04,198.55 L147.97,203.82 L149.29,194.34 L150.13,195.00 L150.77,197.05 L152.13,208.39 L153.14,225.27 L153.79,251.49 L154.40,102.96 L154.62,87.01 L154.79,72.97 L154.92,60.61 L155.01,49.74 L155.09,40.17 L155.15,31.75 L155.19,24.34 L155.23,17.82 L155.26,11.82 L155.29,5.82 L155.31,-0.18 L155.33,-6.18 L155.35,-12.18 L155.36,-18.18 L155.37,-24.18 L155.38,-30.00 L155.42,-30.00 L155.43,-24.18 L155.44,-18.18 L155.45,-12.18 L155.47,-6.18 L155.49,-0.18 L155.51,5.82 L155.54,11.82 L155.57,17.82 L155.61,24.34 L155.65,31.75 L155.71,40.17 L155.79,49.74 L155.88,60.61 L156.01,72.97 L156.18,87.01 L156.40,102.96 L157.14,119.34 L157.72,130.00 L158.33,149.05 L158.34,184.55 L158.41,166.77 L158.41,174.89 L158.86,183.71 L159.72,193.56 L160.86,212.97 L162.01,222.19 L162.95,242.12 L163.64,222.52 L164.20,194.58 L164.55,180.00 L164.86,170.00 L165.81,148.52 L166.67,130.00 L167.19,110.44 L167.43,93.58 L167.62,78.75 L167.76,65.70 L167.87,54.22 L167.96,44.11 L168.03,35.22 L168.08,27.39 L168.12,20.51 L168.15,14.44 L168.18,8.44 L168.20,2.44 L168.22,-3.56 L168.24,-9.56 L168.26,-15.56 L168.27,-21.56 L168.28,-27.56 L168.28,-30.00 L168.32,-30.00 L168.32,-27.56 L168.33,-21.56 L168.34,-15.56 L168.36,-9.56 L168.38,-3.56 L168.40,2.44 L168.42,8.44 L168.45,14.44 L168.48,20.51 L168.52,27.39 L168.57,35.22 L168.64,44.11 L168.73,54.22 L168.84,65.70 L168.98,78.75 L169.17,93.58 L169.41,110.44 L170.49,128.12 L170.82,140.00 L171.00,172.70 L171.08,210.15 L171.38,229.03 L171.98,237.56 L172.79,237.81 L173.58,225.88 L174.15,239.96 L174.46,260.19 L174.64,279.14 L174.96,274.21 L175.65,257.83 L176.58,240.00 L178.18,262.58 L179.60,210.99 L180.15,190.00 L180.51,109.00 L180.75,92.32 L180.93,77.64 L181.07,64.72 L181.18,53.36 L181.27,43.35 L181.33,34.55 L181.38,26.81 L181.42,19.99 L181.45,13.99 L181.48,7.99 L181.50,1.99 L181.52,-4.01 L181.54,-10.01 L181.56,-16.01 L181.57,-22.01 L181.58,-28.01 L181.58,-30.00 L181.62,-30.00 L181.62,-28.01 L181.63,-22.01 L181.64,-16.01 L181.66,-10.01 L181.68,-4.01 L181.70,1.99 L181.72,7.99 L181.75,13.99 L181.78,19.99 L181.82,26.81 L181.87,34.55 L181.93,43.35 L182.02,53.36 L182.13,64.72 L182.27,77.64 L182.45,92.32 L182.69,109.00 L183.28,204.34 L184.18,230.81 L184.77,236.00 L185.21,240.83 L186.15,218.78 L186.70,200.00 L186.88,194.05 L186.96,183.00 L186.98,187.55 L187.11,197.77 L187.74,195.00 L188.72,205.02 L189.80,188.98 L190.76,178.08 L191.46,164.48 L191.78,160.00 L191.99,157.21 L192.40,166.69 L192.91,143.09 L193.29,122.32 L193.59,104.04 L193.81,87.95 L193.98,73.80 L194.11,61.34 L194.21,50.38 L194.29,40.74 L194.35,32.25 L194.39,24.78 L194.43,18.21 L194.46,12.21 L194.49,6.21 L194.51,0.21 L194.53,-5.79 L194.55,-11.79 L194.56,-17.79 L194.57,-23.79 L194.58,-29.79 L194.58,-30.00 L194.62,-30.00 L194.62,-29.79 L194.63,-23.79 L194.64,-17.79 L194.65,-11.79 L194.67,-5.79 L194.69,0.21 L194.71,6.21 L194.74,12.21 L194.77,18.21 L194.81,24.78 L194.85,32.25 L194.91,40.74 L194.99,50.38 L195.09,61.34 L195.22,73.80 L195.39,87.95 L195.61,104.04 L195.91,122.32 L196.29,143.09 L196.80,166.69 L197.32,213.68 L198.42,226.08 L199.07,244.26 L199.35,237.61 L199.49,224.56 L199.69,215.00 L200.27,208.74 L201.04,199.01 L201.63,195.00 L202.48,197.43 L202.82,199.23 L202.90,190.00 L202.94,193.21 L203.09,172.29 L203.52,161.63 L204.39,146.65 L205.76,135.08 L206.11,115.27 L206.38,97.84 L206.58,82.50 L206.73,69.00 L206.85,57.12 L206.94,46.66 L207.01,37.46 L207.06,29.37 L207.11,22.24 L207.14,15.98 L207.17,9.98 L207.19,3.98 L207.22,-2.02 L207.24,-8.02 L207.25,-14.02 L207.27,-20.02 L207.28,-26.02 L207.28,-30.00 L207.32,-30.00 L207.32,-26.02 L207.33,-20.02 L207.35,-14.02 L207.36,-8.02 L207.38,-2.02 L207.41,3.98 L207.43,9.98 L207.46,15.98 L207.49,22.24 L207.54,29.37 L207.59,37.46 L207.66,46.66 L207.75,57.12 L207.87,69.00 L208.02,82.50 L208.22,97.84 L208.49,115.27 L208.84,135.08 L209.30,196.91 L209.97,223.43 L210.27,240.00 L210.50,265.57 L211.14,272.66 L212.03,239.52 L213.13,202.04 L214.22,222.77 L214.96,240.00 L215.46,259.88 L215.48,260.79 L215.52,236.84 L215.54,283.03 L215.72,220.00 L215.95,210.56 L217.01,211.28 L217.81,182.33 L218.42,156.85 L218.88,134.43 L219.22,114.70 L219.48,97.33 L219.68,82.05 L219.83,68.61 L219.95,56.77 L220.04,46.36 L220.11,37.20 L220.17,29.13 L220.21,22.04 L220.24,15.79 L220.27,9.79 L220.29,3.79 L220.32,-2.21 L220.34,-8.21 L220.35,-14.21 L220.37,-20.21 L220.38,-26.21 L220.38,-30.00 L220.42,-30.00 L220.42,-26.21 L220.43,-20.21 L220.45,-14.21 L220.46,-8.21 L220.48,-2.21 L220.51,3.79 L220.53,9.79 L220.56,15.79 L220.59,22.04 L220.63,29.13 L220.69,37.20 L220.76,46.36 L220.85,56.77 L220.97,68.61 L221.12,82.05 L221.32,97.33 L221.58,114.70 L221.92,134.43 L222.38,156.85 L222.99,182.33 L223.79,211.28 L224.83,212.87 L226.13,218.85 L227.04,237.61 L227.54,243.86 L227.76,243.00 L228.06,233.09 L228.54,225.95 L229.22,233.12 L230.19,201.54 L230.93,173.76 L231.48,149.31 L231.90,127.79 L232.21,108.86 L232.45,92.19 L232.64,77.53 L232.78,64.63 L232.88,53.27 L232.97,43.28 L233.03,34.49 L233.08,26.75 L233.12,19.94 L233.15,13.94 L233.18,7.94 L233.20,1.94 L233.22,-4.06 L233.24,-10.06 L233.26,-16.06 L233.27,-22.06 L233.28,-28.06 L233.28,-30.00 L233.32,-30.00 L233.32,-28.06 L233.33,-22.06 L233.34,-16.06 L233.36,-10.06 L233.38,-4.06 L233.40,1.94 L233.42,7.94 L233.45,13.94 L233.48,19.94 L233.52,26.75 L233.57,34.49 L233.63,43.28 L233.72,53.27 L233.82,64.63 L233.96,77.53 L234.15,92.19 L234.39,108.86 L234.70,127.79 L235.12,149.31 L235.67,173.76 L236.41,201.54 L237.38,233.12 L237.71,256.55 L238.29,260.59 L238.63,273.00 L238.92,264.94 L239.78,239.84 L240.55,225.00 L242.11,222.21 L243.16,218.00 L243.63,185.51 L244.26,159.65 L244.73,136.89 L245.09,116.86 L245.36,99.24 L245.56,83.73 L245.72,70.08 L245.84,58.07 L245.93,47.50 L246.00,38.20 L246.06,30.02 L246.10,22.82 L246.14,16.48 L246.17,10.48 L246.19,4.48 L246.21,-1.52 L246.23,-7.52 L246.25,-13.52 L246.26,-19.52 L246.28,-25.52 L246.28,-30.00 L246.32,-30.00 L246.32,-25.52 L246.34,-19.52 L246.35,-13.52 L246.37,-7.52 L246.39,-1.52 L246.41,4.48 L246.43,10.48 L246.46,16.48 L246.50,22.82 L246.54,30.02 L246.60,38.20 L246.67,47.50 L246.76,58.07 L246.88,70.08 L247.04,83.73 L247.24,99.24 L247.51,116.86 L247.87,136.89 L248.34,159.65 L248.97,185.51 L249.57,214.07 L250.78,211.37 L252.25,218.21 L253.68,224.67 L254.53,230.00 L255.54,245.35 L255.95,267.66 L256.26,240.44 L256.73,217.87 L257.22,200.00 L258.33,164.43 L259.15,140.36 L259.70,166.27 L259.89,210.86 L259.90,201.07 L259.92,226.16 L260.19,240.00 L261.06,271.98 L262.20,303.87 L263.29,322.00 L264.59,289.12 L265.43,259.70 L265.80,240.00 L266.05,237.92 L266.65,228.72 L267.44,227.98 L267.87,215.00 L268.53,208.79 L269.82,195.02 L271.05,185.99 L271.63,180.00 L271.98,174.22 L272.47,155.88 L272.57,167.63 L272.58,138.24 L272.72,196.54 L273.19,212.39 L273.95,228.53 L274.81,225.96 L275.55,219.52 L276.03,212.35 L276.33,210.67 L276.65,216.31 L277.25,215.30 L278.27,219.55 L279.64,210.23 L281.12,204.97 L282.42,194.28 L283.36,176.92 L283.94,165.87 L284.35,147.47 L284.60,139.00 L284.82,155.77 L285.53,174.82 L286.45,194.49 L287.38,222.68 L288.09,248.94 L288.39,260.53 L288.43,273.54 L288.47,294.00 L288.53,235.21 L288.96,215.00 L290.00,213.63 L291.16,207.61 L292.28,207.23 L292.69,205.00 L293.17,201.05 L293.81,201.21 L294.37,197.46 L295.08,206.69 L296.09,181.27 L297.38,170.61 L298.17,164.00 L298.75,173.34 L299.91,190.14 L300.50,205.00 L300.99,208.01 L301.07,210.29 L301.17,209.09 L301.53,201.37 L301.98,200.00 L303.02,191.18 L303.68,189.00 L304.29,197.13 L304.56,204.65 L304.63,205.00 L304.75,220.74 L305.13,248.54 L305.90,277.34 L307.09,246.08 L308.53,213.01 L309.92,171.06 L311.03,143.56 L311.79,182.65 L312.02,200.00 L312.30,222.45 L312.72,251.00 L313.50,243.45 L314.44,232.92 L314.88,230.00 L315.47,234.09 L316.36,237.40 L316.90,237.26 L316.96,284.70 L316.98,267.19 L317.05,260.47 L317.26,271.74 L317.98,258.00 L318.99,223.51 L319.77,210.00 L320.98,190.81 L321.64,175.60 L322.15,160.02 L322.75,181.28 L323.64,213.50 L324.12,220.00 L324.86,231.18 L326.29,244.00 L327.63,260.80 L328.64,269.10 L329.21,292.48 L329.45,288.55 L329.59,298.81 L329.89,287.32 L330.47,270.06 L331.26,254.65 L331.62,250.00 L332.06,241.77 L332.63,232.39 L332.92,204.85 L333.02,203.17 L333.21,187.10 L333.72,168.47 L334.68,169.78 L335.99,181.53 L337.39,200.77 L338.62,200.71 L339.52,202.25 L340.06,208.00 L340.68,209.11 L341.36,210.64 L342.30,212.89 L343.41,213.62 L344.47,221.05 L345.23,207.74 L345.52,208.00 L345.58,209.10 L345.59,209.01 L345.64,205.66 L345.87,195.00 L346.14,197.02 L346.98,189.06 L347.41,171.00 L347.98,179.49 L348.89,191.26 L349.30,200.00 L349.55,201.24 L350.03,207.06 L350.51,210.24 L351.23,212.53 L352.32,212.64 L353.51,216.00 L355.17,215.47 L356.41,212.58 L357.23,210.78 L357.66,204.51 L357.90,205.96 L358.19,206.52 L358.73,205.85 L359.50,206.35 L360.33,197.51 L361.00,192.00 L361.36,190.41 L361.45,174.00 L361.49,183.42 L361.76,200.76 L362.46,201.63 L363.57,205.73 L364.90,214.66 L366.17,227.69 L367.18,233.92 L367.52,222.00 L367.90,220.65 L368.47,226.61 L369.13,225.61 L369.75,228.00 L371.19,231.40 L372.40,231.44 L373.39,233.90 L373.97,227.63 L374.10,209.61 L374.12,206.85 L374.14,221.29 L374.44,200.19 L375.12,196.91 L376.02,217.27 L376.91,220.45 L377.58,228.44 L378.03,229.80 L378.40,234.39 L378.94,234.72 L379.84,236.10 L380.92,237.00 L382.60,241.69 L383.99,242.20 L385.05,242.68 L385.70,246.22 L385.93,247.00 L386.07,253.22 L386.40,227.71 L386.92,210.33 L387.68,191.57 L388.56,176.10 L389.35,185.99 L389.83,206.73 L389.94,241.86 L389.96,220.00 L390.02,259.91 L390.45,267.68 L391.32,259.15 L392.51,249.13 L393.76,248.45 L394.26,247.00 L394.84,248.89 L395.63,245.42 L396.22,245.26 L396.84,244.86 L397.70,243.81 L398.84,244.36 L400.14,232.62 L401.33,205.18 L402.17,180.65 L402.50,167.00 L402.64,210.29 L402.65,225.48 L402.85,250.44 L403.38,280.86 L404.18,305.02 L405.04,296.10 L405.73,284.09 L406.01,280.00 L406.16,276.73 L406.44,274.27 L406.80,269.19 L407.48,260.66 L408.58,261.04 L409.99,258.14 L411.46,254.08 L412.70,251.93 L413.12,253.00 L413.56,251.03 L414.03,220.00 L414.49,192.06 L415.01,206.41 L415.76,252.49 L416.56,270.00 L417.60,307.96 L418.25,346.58 L418.45,366.00 L418.46,323.85 L418.51,340.65 L418.52,360.68 L418.66,307.44 L419.28,296.76 L420.28,295.51 L421.45,282.29 L422.54,276.01 L423.38,262.74 L423.99,251.15 L424.56,246.51 L425.32,230.42 L426.39,234.46 L427.72,212.67 L429.07,227.04 L430.16,258.55 L430.82,287.51 L431.08,313.08 L431.14,346.55 L431.28,378.17 L431.70,361.47 L432.41,357.83 L433.24,341.70 L433.96,334.42 L434.42,318.68 L434.65,317.43 L434.73,304.00 L434.86,299.62 L435.30,285.81 L436.17,271.02 L437.43,261.45 L438.88,255.15 L440.23,253.30 L441.27,259.29 L441.96,285.75 L442.45,302.10 L442.98,323.24 L443.73,335.28 L444.70,350.94 L445.73,366.68 L446.56,364.79 L447.02,357.18 L447.02,344.76 L447.05,342.13 L447.11,350.00 L447.43,349.32 L448.22,357.80 L448.96,365.00 L450.33,340.27 L451.19,331.72 L451.81,310.73 L452.32,296.05 L452.96,283.77 L453.91,293.11 L455.20,311.14 L456.63,325.86 L457.93,340.25 L458.85,349.57 L459.34,378.74 L459.47,372.00 L459.53,366.65 L459.69,358.73 L460.04,353.59 L460.68,357.99 L461.02,340.00 L461.49,340.21 L462.25,340.29 L462.77,342.45 L463.01,346.50 L463.11,329.32 L463.34,320.65 L463.94,304.73 L464.80,294.00 L466.33,318.35 L467.72,336.65 L468.88,356.67 L469.72,361.37 L470.30,365.49 L470.85,374.61 L471.59,358.44 L472.57,347.76 L473.70,339.14 L474.31,330.00 L474.72,334.97 L475.40,357.68 L475.57,372.00 L475.63,374.66 L475.66,352.50 L475.77,357.03 L476.34,341.17 L477.24,335.33 L478.24,310.25 L479.10,297.69 L479.72,311.71 L480.18,341.04 L480.69,362.10 L481.48,369.15 L482.64,362.97 L484.07,347.77 L485.51,337.82 L486.38,330.00 L487.41,340.60 L487.78,354.75 L488.00,363.62 L488.34,371.86 L488.93,358.93 L489.73,341.59 L490.55,328.90 L491.16,316.38 L491.37,306.00" fill="none" stroke="#ec2e2e" stroke-width="0.95" stroke-opacity="0.95" stroke-linejoin="round"/>
<path d="M440.00,345.57 L443.10,374.88 L446.62,348.50 L450.10,355.60 L452.63,350.30 L455.54,376.84 L457.34,332.56 L459.41,363.23 L462.16,315.13 L464.17,349.22 L467.64,329.14 L469.53,370.87 L471.38,325.44 L473.20,335.08 L476.58,315.24 L478.58,379.21 L481.96,318.12 L485.52,360.42 L488.49,318.98" fill="none" stroke="#ee3030" stroke-width="0.8" stroke-opacity="0.75"/>
</g>
<rect x="335.7" y="26.5" width="146.6" height="109.9" fill="#fff"/>
<path d="M335.70,78.51 L336.20,79.50 L336.70,80.50 L337.20,81.50 L337.70,82.50 L338.20,83.49 L338.70,84.49 L339.20,85.49 L339.70,86.48 L340.20,87.47 L340.70,88.46 L341.20,89.44 L341.70,90.42 L342.20,91.40 L342.70,92.37 L343.20,93.34 L343.70,94.30 L344.20,95.25 L344.70,96.20 L345.20,97.14 L345.70,98.08 L346.20,99.00 L346.70,99.92 L347.20,100.83 L347.70,101.73 L348.20,102.62 L348.70,103.51 L349.20,104.38 L349.70,105.24 L350.20,106.09 L350.70,106.93 L351.20,107.75 L351.70,108.57 L352.20,109.37 L352.70,110.16 L353.20,110.94 L353.70,111.70 L354.20,112.45 L354.70,113.18 L355.20,113.90 L355.70,114.61 L356.20,115.30 L356.70,115.97 L357.20,116.63 L357.70,117.27 L358.20,117.90 L358.70,118.51 L359.20,119.10 L359.70,119.67 L360.20,120.23 L360.70,120.77 L361.20,121.29 L361.70,121.79 L362.20,122.28 L362.70,122.74 L363.20,123.19 L363.70,123.62 L364.20,124.02 L364.70,124.41 L365.20,124.78 L365.70,125.13 L366.20,125.46 L366.70,125.77 L367.20,126.05 L367.70,126.32 L368.20,126.57 L368.70,126.79 L369.20,127.00 L369.70,127.18 L370.20,127.35 L370.70,127.49 L371.20,127.61 L371.70,127.71 L372.20,127.79 L372.70,127.85 L373.20,127.88 L373.70,127.90 L374.20,127.89 L374.70,127.87 L375.20,127.82 L375.70,127.75 L376.20,127.65 L376.70,127.54 L377.20,127.41 L377.70,127.25 L378.20,127.08 L378.70,126.88 L379.20,126.66 L379.70,126.42 L380.20,126.16 L380.70,125.88 L381.20,125.58 L381.70,125.26 L382.20,124.92 L382.70,124.56 L383.20,124.18 L383.70,123.78 L384.20,123.36 L384.70,122.92 L385.20,122.46 L385.70,121.99 L386.20,121.49 L386.70,120.98 L387.20,120.45 L387.70,119.90 L388.20,119.33 L388.70,118.75 L389.20,118.14 L389.70,117.52 L390.20,116.89 L390.70,116.24 L391.20,115.57 L391.70,114.89 L392.20,114.19 L392.70,113.47 L393.20,112.74 L393.70,112.00 L394.20,111.24 L394.70,110.47 L395.20,109.69 L395.70,108.89 L396.20,108.08 L396.70,107.26 L397.20,106.43 L397.70,105.58 L398.20,104.72 L398.70,103.86 L399.20,102.98 L399.70,102.09 L400.20,101.19 L400.70,100.29 L401.20,99.37 L401.70,98.45 L402.20,97.52 L402.70,96.58 L403.20,95.63 L403.70,94.68 L404.20,93.72 L404.70,92.76 L405.20,91.79 L405.70,90.81 L406.20,89.83 L406.70,88.85 L407.20,87.86 L407.70,86.87 L408.20,85.88 L408.70,84.89 L409.20,83.89 L409.70,82.90 L410.20,81.90 L410.70,80.90 L411.20,79.90 L411.70,78.91 L412.20,77.91 L412.70,76.91 L413.20,75.92 L413.70,74.93 L414.20,73.94 L414.70,72.96 L415.20,71.98 L415.70,71.00 L416.20,70.03 L416.70,69.06 L417.20,68.10 L417.70,67.15 L418.20,66.20 L418.70,65.26 L419.20,64.32 L419.70,63.40 L420.20,62.48 L420.70,61.57 L421.20,60.67 L421.70,59.78 L422.20,58.89 L422.70,58.02 L423.20,57.16 L423.70,56.31 L424.20,55.47 L424.70,54.65 L425.20,53.83 L425.70,53.03 L426.20,52.24 L426.70,51.46 L427.20,50.70 L427.70,49.95 L428.20,49.22 L428.70,48.50 L429.20,47.79 L429.70,47.10 L430.20,46.43 L430.70,45.77 L431.20,45.13 L431.70,44.50 L432.20,43.89 L432.70,43.30 L433.20,42.73 L433.70,42.17 L434.20,41.63 L434.70,41.11 L435.20,40.61 L435.70,40.12 L436.20,39.66 L436.70,39.21 L437.20,38.78 L437.70,38.38 L438.20,37.99 L438.70,37.62 L439.20,37.27 L439.70,36.94 L440.20,36.63 L440.70,36.35 L441.20,36.08 L441.70,35.83 L442.20,35.61 L442.70,35.40 L443.20,35.22 L443.70,35.05 L444.20,34.91 L444.70,34.79 L445.20,34.69 L445.70,34.61 L446.20,34.55 L446.70,34.52 L447.20,34.50 L447.70,34.51 L448.20,34.53 L448.70,34.58 L449.20,34.65 L449.70,34.75 L450.20,34.86 L450.70,34.99 L451.20,35.15 L451.70,35.32 L452.20,35.52 L452.70,35.74 L453.20,35.98 L453.70,36.24 L454.20,36.52 L454.70,36.82 L455.20,37.14 L455.70,37.48 L456.20,37.84 L456.70,38.22 L457.20,38.62 L457.70,39.04 L458.20,39.48 L458.70,39.94 L459.20,40.41 L459.70,40.91 L460.20,41.42 L460.70,41.95 L461.20,42.50 L461.70,43.07 L462.20,43.65 L462.70,44.26 L463.20,44.88 L463.70,45.51 L464.20,46.16 L464.70,46.83 L465.20,47.51 L465.70,48.21 L466.20,48.93 L466.70,49.66 L467.20,50.40 L467.70,51.16 L468.20,51.93 L468.70,52.71 L469.20,53.51 L469.70,54.32 L470.20,55.14 L470.70,55.97 L471.20,56.82 L471.70,57.68 L472.20,58.54 L472.70,59.42 L473.20,60.31 L473.70,61.21 L474.20,62.11 L474.70,63.03 L475.20,63.95 L475.70,64.88 L476.20,65.82 L476.70,66.77 L477.20,67.72 L477.70,68.68 L478.20,69.64 L478.70,70.61 L479.20,71.59 L479.70,72.57 L480.20,73.55 L480.70,74.54 L481.20,75.53 L481.70,76.52 L482.20,77.51" fill="none" stroke="#404040" stroke-width="0.9"/>
<path d="M336.30,80.60 L336.59,79.30 L336.98,77.24 L337.46,75.15 L337.97,73.73 L338.50,73.70 L339.05,75.81 L339.64,79.59 L340.26,83.91 L340.89,87.62 L341.50,89.60 L342.12,89.24 L342.75,87.30 L343.37,84.69 L343.96,82.29 L344.50,81.00 L344.95,81.26 L345.32,82.47 L345.68,83.98 L346.05,85.14 L346.50,85.30 L347.04,83.98 L347.65,81.60 L348.29,78.90 L348.92,76.62 L349.50,75.50 L350.04,75.95 L350.56,77.50 L351.06,79.49 L351.54,81.30 L352.00,82.30 L352.42,82.16 L352.79,81.31 L353.15,80.23 L353.54,79.40 L354.00,79.30 L354.54,80.32 L355.13,82.14 L355.75,84.17 L356.38,85.85 L357.00,86.60 L357.62,86.05 L358.25,84.60 L358.87,82.78 L359.46,81.13 L360.00,80.20 L360.45,80.27 L360.82,80.99 L361.18,81.91 L361.55,82.63 L362.00,82.70 L362.54,81.78 L363.13,80.17 L363.75,78.37 L364.38,76.90 L365.00,76.30 L365.62,76.90 L366.25,78.37 L366.87,80.17 L367.46,81.78 L368.00,82.70 L368.46,82.63 L368.85,81.93 L369.21,81.02 L369.58,80.30 L370.00,80.20 L370.45,81.06 L370.92,82.61 L371.40,84.32 L371.93,85.69 L372.50,86.20 L373.16,85.49 L373.90,83.91 L374.66,82.00 L375.38,80.28 L376.00,79.30 L376.49,79.36 L376.88,80.09 L377.24,81.05 L377.59,81.80 L378.00,81.90 L378.46,80.94 L378.94,79.21 L379.44,77.33 L379.96,75.89 L380.50,75.50 L381.08,76.65 L381.71,78.93 L382.35,81.62 L382.96,83.98 L383.50,85.30 L383.95,85.14 L384.32,83.98 L384.68,82.47 L385.05,81.26 L385.50,81.00 L386.04,82.29 L386.65,84.69 L387.29,87.30 L387.92,89.24 L388.50,89.60 L389.03,87.62 L389.54,83.89 L390.02,79.57 L390.51,75.79 L391.00,73.70 L391.50,74.08 L392.00,76.15 L392.49,78.77 L392.99,80.77 L393.50,81.00 L394.02,78.27 L394.57,73.35 L395.11,68.02 L395.62,64.08 L396.10,63.30 L396.53,66.53 L396.92,72.59 L397.28,80.19 L397.64,88.09 L398.00,95.00 L398.36,102.02 L398.72,110.00 L399.07,117.30 L399.43,122.28 L399.80,123.30 L400.19,119.17 L400.59,110.99 L401.00,100.54 L401.40,89.61 L401.80,80.00 L402.19,70.62 L402.58,60.28 L402.97,50.59 L403.34,43.19 L403.70,39.70 L404.04,41.25 L404.36,46.77 L404.67,54.53 L404.98,62.85 L405.30,70.00 L405.61,76.74 L405.92,84.22 L406.22,91.30 L406.55,96.84 L406.90,99.70 L407.29,98.91 L407.70,95.21 L408.13,90.09 L408.57,85.03 L409.00,81.50 L409.42,79.72 L409.82,78.69 L410.24,78.11 L410.69,77.66 L411.20,77.00 L411.79,75.98 L412.46,74.79 L413.15,73.71 L413.81,73.00 L414.40,72.90 L414.88,73.80 L415.30,75.51 L415.68,77.49 L416.07,79.18 L416.50,80.00 L416.97,79.50 L417.47,78.06 L417.98,76.36 L418.49,75.11 L419.00,75.00 L419.50,76.63 L420.00,79.54 L420.50,82.82 L421.00,85.61 L421.50,87.00 L421.99,86.49 L422.48,84.66 L422.96,82.30 L423.47,80.15 L424.00,79.00 L424.57,79.21 L425.16,80.26 L425.78,81.62 L426.39,82.71 L427.00,83.00 L427.61,82.06 L428.22,80.27 L428.84,78.25 L429.43,76.62 L430.00,76.00 L430.53,76.85 L431.04,78.74 L431.52,81.02 L432.01,82.99 L432.50,84.00 L432.99,83.64 L433.48,82.36 L433.96,80.76 L434.47,79.44 L435.00,79.00 L435.57,79.87 L436.16,81.66 L436.78,83.70 L437.39,85.37 L438.00,86.00 L438.61,85.14 L439.22,83.21 L439.84,80.91 L440.43,78.94 L441.00,78.00 L441.53,78.53 L442.04,80.06 L442.52,81.94 L443.01,83.47 L443.50,84.00 L443.99,83.02 L444.48,80.99 L444.96,78.65 L445.47,76.74 L446.00,76.00 L446.58,76.95 L447.19,79.10 L447.81,81.66 L448.42,83.89 L449.00,85.00 L449.53,84.60 L450.04,83.20 L450.52,81.40 L451.01,79.80 L451.50,79.00 L451.99,79.34 L452.48,80.41 L452.96,81.71 L453.47,82.74 L454.00,83.00 L454.58,82.10 L455.19,80.37 L455.81,78.39 L456.42,76.74 L457.00,76.00 L457.54,76.61 L458.06,78.19 L458.55,80.06 L459.03,81.56 L459.50,82.00 L459.88,80.86 L460.17,78.60 L460.48,75.99 L460.92,73.83 L461.60,72.90 L462.64,73.33 L463.98,74.60 L465.42,76.52 L466.76,78.88 L467.80,81.50 L468.49,85.29 L468.96,90.39 L469.29,95.41 L469.58,98.97 L469.90,99.70 L470.25,96.84 L470.58,91.30 L470.88,84.22 L471.19,76.74 L471.50,70.00 L471.82,62.85 L472.13,54.53 L472.44,46.77 L472.76,41.25 L473.10,39.70 L473.46,43.19 L473.83,50.59 L474.22,60.28 L474.61,70.62 L475.00,80.00 L475.40,89.61 L475.80,100.54 L476.21,110.99 L476.61,119.17 L477.00,123.30 L477.37,122.28 L477.73,117.30 L478.08,110.00 L478.44,102.02 L478.80,95.00 L479.18,88.15 L479.57,80.39 L479.96,72.87 L480.34,66.79 L480.70,63.30 L481.06,63.35 L481.44,66.17 L481.79,70.33 L482.09,74.41 L482.30,77.00" fill="none" stroke="#f03434" stroke-width="0.8"/>
<line x1="335.7" y1="26.5" x2="335.7" y2="136.4" stroke="#b4b4b4" stroke-width="1.4"/>
<line x1="482.29999999999995" y1="26.5" x2="482.29999999999995" y2="136.4" stroke="#b4b4b4" stroke-width="1.4"/>
<line x1="335.0" y1="26.5" x2="482.99999999999994" y2="26.5" stroke="#585858" stroke-width="1.2"/>
<line x1="335.0" y1="136.4" x2="482.99999999999994" y2="136.4" stroke="#585858" stroke-width="1.2"/>
<rect x="103.7" y="15.7" width="387.5" height="357.1" fill="none" stroke="#1c1c1c" stroke-width="1.5"/>
<line x1="135.99" y1="372.8" x2="135.99" y2="369.8" stroke="#000" stroke-width="1.3"/>
<line x1="168.28" y1="372.8" x2="168.28" y2="367.8" stroke="#000" stroke-width="1.3"/>
<line x1="200.57" y1="372.8" x2="200.57" y2="369.8" stroke="#000" stroke-width="1.3"/>
<line x1="232.87" y1="372.8" x2="232.87" y2="367.8" stroke="#000" stroke-width="1.3"/>
<line x1="265.16" y1="372.8" x2="265.16" y2="369.8" stroke="#000" stroke-width="1.3"/>
<line x1="297.45" y1="372.8" x2="297.45" y2="367.8" stroke="#000" stroke-width="1.3"/>
<line x1="329.74" y1="372.8" x2="329.74" y2="369.8" stroke="#000" stroke-width="1.3"/>
<line x1="362.03" y1="372.8" x2="362.03" y2="367.8" stroke="#000" stroke-width="1.3"/>
<line x1="394.32" y1="372.8" x2="394.32" y2="369.8" stroke="#000" stroke-width="1.3"/>
<line x1="426.62" y1="372.8" x2="426.62" y2="367.8" stroke="#000" stroke-width="1.3"/>
<line x1="458.91" y1="372.8" x2="458.91" y2="369.8" stroke="#000" stroke-width="1.3"/>
<line x1="103.7" y1="104.97" x2="109.2" y2="104.97" stroke="#000" stroke-width="1.3"/>
<line x1="103.7" y1="194.25" x2="109.2" y2="194.25" stroke="#000" stroke-width="1.3"/>
<line x1="103.7" y1="283.52" x2="109.2" y2="283.52" stroke="#000" stroke-width="1.3"/>
<text x="102.90" y="403.8" font-family="Liberation Serif" stroke="#000" stroke-width="0.35" font-size="31" text-anchor="middle">5</text>
<text x="167.48" y="403.8" font-family="Liberation Serif" stroke="#000" stroke-width="0.35" font-size="31" text-anchor="middle">15</text>
<text x="232.07" y="403.8" font-family="Liberation Serif" stroke="#000" stroke-width="0.35" font-size="31" text-anchor="middle">25</text>
<text x="296.65" y="403.8" font-family="Liberation Serif" stroke="#000" stroke-width="0.35" font-size="31" text-anchor="middle">35</text>
<text x="361.23" y="403.8" font-family="Liberation Serif" stroke="#000" stroke-width="0.35" font-size="31" text-anchor="middle">45</text>
<text x="425.82" y="403.8" font-family="Liberation Serif" stroke="#000" stroke-width="0.35" font-size="31" text-anchor="middle">55</text>
<text x="490.40" y="403.8" font-family="Liberation Serif" stroke="#000" stroke-width="0.35" font-size="31" text-anchor="middle">65</text>
<text x="96.7" y="27.70" font-family="Liberation Serif" stroke="#000" stroke-width="0.35" font-size="32" text-anchor="end">10<tspan font-size="21.5" dx="-1.2" dy="-13">-5</tspan></text>
<text x="96.7" y="116.97" font-family="Liberation Serif" stroke="#000" stroke-width="0.35" font-size="32" text-anchor="end">10<tspan font-size="21.5" dx="-1.2" dy="-13">-7</tspan></text>
<text x="96.7" y="206.25" font-family="Liberation Serif" stroke="#000" stroke-width="0.35" font-size="32" text-anchor="end">10<tspan font-size="21.5" dx="-1.2" dy="-13">-9</tspan></text>
<text x="96.7" y="295.52" font-family="Liberation Serif" stroke="#000" stroke-width="0.35" font-size="32" text-anchor="end">10<tspan font-size="21.5" dx="-1.2" dy="-13">-11</tspan></text>
<text x="96.7" y="384.80" font-family="Liberation Serif" stroke="#000" stroke-width="0.35" font-size="32" text-anchor="end">10<tspan font-size="21.5" dx="-1.2" dy="-13">-13</tspan></text>
<text x="109" y="59.2" font-family="Liberation Serif" stroke="#000" stroke-width="0.35" font-size="42.5">(a)</text>
<text x="153.0" y="457.8" font-family="Liberation Serif" stroke="#000" stroke-width="0.35" font-size="36.5">Harmonic order (n)</text>
<g clip-path="url(#c1)">
<path d="M624.12,19.00 L624.15,13.00 L624.18,7.00 L624.21,1.00 L624.23,-5.00 L624.24,-11.00 L624.26,-17.00 L624.27,-23.00 L624.28,-29.00 L624.28,-30.00 L624.32,-30.00 L624.32,-29.00 L624.33,-23.00 L624.34,-17.00 L624.36,-11.00 L624.37,-5.00 L624.39,1.00 L624.42,7.00 L624.45,13.00 L624.48,19.00Z" fill="#f6a8a8"/>
<path d="M661.97,91.00 L662.15,76.48 L662.28,63.70 L662.39,52.46 L662.47,42.56 L662.53,33.86 L662.58,26.19 L662.62,19.45 L662.65,13.45 L662.68,7.45 L662.70,1.45 L662.72,-4.55 L662.74,-10.55 L662.76,-16.55 L662.77,-22.55 L662.78,-28.55 L662.78,-30.00 L662.82,-30.00 L662.82,-28.55 L662.83,-22.55 L662.84,-16.55 L662.86,-10.55 L662.88,-4.55 L662.90,1.45 L662.92,7.45 L662.95,13.45 L662.98,19.45 L663.02,26.19 L663.07,33.86 L663.13,42.56 L663.21,52.46 L663.32,63.70 L663.45,76.48 L663.63,91.00Z" fill="#f6a8a8"/>
<path d="M674.87,91.00 L675.05,76.48 L675.18,63.70 L675.29,52.46 L675.37,42.56 L675.43,33.86 L675.48,26.19 L675.52,19.45 L675.55,13.45 L675.58,7.45 L675.60,1.45 L675.62,-4.55 L675.64,-10.55 L675.66,-16.55 L675.67,-22.55 L675.68,-28.55 L675.68,-30.00 L675.72,-30.00 L675.72,-28.55 L675.73,-22.55 L675.74,-16.55 L675.76,-10.55 L675.78,-4.55 L675.80,1.45 L675.82,7.45 L675.85,13.45 L675.88,19.45 L675.92,26.19 L675.97,33.86 L676.03,42.56 L676.11,52.46 L676.22,63.70 L676.35,76.48 L676.53,91.00Z" fill="#f6a8a8"/>
<path d="M687.77,91.00 L687.95,76.48 L688.08,63.70 L688.19,52.46 L688.27,42.56 L688.33,33.86 L688.38,26.19 L688.42,19.45 L688.45,13.45 L688.48,7.45 L688.50,1.45 L688.52,-4.55 L688.54,-10.55 L688.56,-16.55 L688.57,-22.55 L688.58,-28.55 L688.58,-30.00 L688.62,-30.00 L688.62,-28.55 L688.63,-22.55 L688.64,-16.55 L688.66,-10.55 L688.68,-4.55 L688.70,1.45 L688.72,7.45 L688.75,13.45 L688.78,19.45 L688.82,26.19 L688.87,33.86 L688.93,42.56 L689.01,52.46 L689.12,63.70 L689.25,76.48 L689.43,91.00Z" fill="#f6a8a8"/>
<path d="M700.67,91.00 L700.85,76.48 L700.98,63.70 L701.09,52.46 L701.17,42.56 L701.23,33.86 L701.28,26.19 L701.32,19.45 L701.35,13.45 L701.38,7.45 L701.40,1.45 L701.42,-4.55 L701.44,-10.55 L701.46,-16.55 L701.47,-22.55 L701.48,-28.55 L701.48,-30.00 L701.52,-30.00 L701.52,-28.55 L701.53,-22.55 L701.54,-16.55 L701.56,-10.55 L701.58,-4.55 L701.60,1.45 L701.62,7.45 L701.65,13.45 L701.68,19.45 L701.72,26.19 L701.77,33.86 L701.83,42.56 L701.91,52.46 L702.02,63.70 L702.15,76.48 L702.33,91.00Z" fill="#f6a8a8"/>
<path d="M713.57,91.00 L713.75,76.48 L713.88,63.70 L713.99,52.46 L714.07,42.56 L714.13,33.86 L714.18,26.19 L714.22,19.45 L714.25,13.45 L714.28,7.45 L714.30,1.45 L714.32,-4.55 L714.34,-10.55 L714.36,-16.55 L714.37,-22.55 L714.38,-28.55 L714.38,-30.00 L714.42,-30.00 L714.42,-28.55 L714.43,-22.55 L714.44,-16.55 L714.46,-10.55 L714.48,-4.55 L714.50,1.45 L714.52,7.45 L714.55,13.45 L714.58,19.45 L714.62,26.19 L714.67,33.86 L714.73,42.56 L714.81,52.46 L714.92,63.70 L715.05,76.48 L715.23,91.00Z" fill="#f6a8a8"/>
<path d="M726.47,91.00 L726.65,76.48 L726.78,63.70 L726.89,52.46 L726.97,42.56 L727.03,33.86 L727.08,26.19 L727.12,19.45 L727.15,13.45 L727.18,7.45 L727.20,1.45 L727.22,-4.55 L727.24,-10.55 L727.26,-16.55 L727.27,-22.55 L727.28,-28.55 L727.28,-30.00 L727.32,-30.00 L727.32,-28.55 L727.33,-22.55 L727.34,-16.55 L727.36,-10.55 L727.38,-4.55 L727.40,1.45 L727.42,7.45 L727.45,13.45 L727.48,19.45 L727.52,26.19 L727.57,33.86 L727.63,42.56 L727.71,52.46 L727.82,63.70 L727.95,76.48 L728.13,91.00Z" fill="#f6a8a8"/>
<path d="M739.37,91.00 L739.55,76.48 L739.68,63.70 L739.79,52.46 L739.87,42.56 L739.93,33.86 L739.98,26.19 L740.02,19.45 L740.05,13.45 L740.08,7.45 L740.10,1.45 L740.12,-4.55 L740.14,-10.55 L740.16,-16.55 L740.17,-22.55 L740.18,-28.55 L740.18,-30.00 L740.22,-30.00 L740.22,-28.55 L740.23,-22.55 L740.24,-16.55 L740.26,-10.55 L740.28,-4.55 L740.30,1.45 L740.32,7.45 L740.35,13.45 L740.38,19.45 L740.42,26.19 L740.47,33.86 L740.53,42.56 L740.61,52.46 L740.72,63.70 L740.85,76.48 L741.03,91.00Z" fill="#f6a8a8"/>
<path d="M752.27,91.00 L752.45,76.48 L752.58,63.70 L752.69,52.46 L752.77,42.56 L752.83,33.86 L752.88,26.19 L752.92,19.45 L752.95,13.45 L752.98,7.45 L753.00,1.45 L753.02,-4.55 L753.04,-10.55 L753.06,-16.55 L753.07,-22.55 L753.08,-28.55 L753.08,-30.00 L753.12,-30.00 L753.12,-28.55 L753.13,-22.55 L753.14,-16.55 L753.16,-10.55 L753.18,-4.55 L753.20,1.45 L753.22,7.45 L753.25,13.45 L753.28,19.45 L753.32,26.19 L753.37,33.86 L753.43,42.56 L753.51,52.46 L753.62,63.70 L753.75,76.48 L753.93,91.00Z" fill="#f6a8a8"/>
<path d="M765.17,91.00 L765.35,76.48 L765.48,63.70 L765.59,52.46 L765.67,42.56 L765.73,33.86 L765.78,26.19 L765.82,19.45 L765.85,13.45 L765.88,7.45 L765.90,1.45 L765.92,-4.55 L765.94,-10.55 L765.96,-16.55 L765.97,-22.55 L765.98,-28.55 L765.98,-30.00 L766.02,-30.00 L766.02,-28.55 L766.03,-22.55 L766.04,-16.55 L766.06,-10.55 L766.08,-4.55 L766.10,1.45 L766.12,7.45 L766.15,13.45 L766.18,19.45 L766.22,26.19 L766.27,33.86 L766.33,42.56 L766.41,52.46 L766.52,63.70 L766.65,76.48 L766.83,91.00Z" fill="#f6a8a8"/>
<path d="M624.10,17.00 L624.28,28.26 L624.54,44.30 L624.80,60.00 L625.01,73.74 L625.22,87.15 L625.50,100.00 L625.88,112.59 L626.33,124.63 L626.80,135.00 L627.29,143.15 L627.79,149.63 L628.30,155.00 L628.80,159.63 L629.31,163.15 L629.80,165.00 L630.27,164.19 L630.73,161.70 L631.20,160.00 L631.69,162.15 L632.20,165.07 L632.70,162.00 L633.21,148.04 L633.72,128.07 L634.20,110.00 L634.62,96.26 L635.01,84.41 L635.40,75.00 L635.80,68.07 L636.20,63.59 L636.60,62.00 L636.99,62.11 L637.38,65.11 L637.80,75.00 L638.29,95.96 L638.81,123.81 L639.30,150.00 L639.73,172.15 L640.13,192.63 L640.50,210.00 L640.84,224.93 L641.17,236.74 L641.50,242.00 L641.86,237.00 L642.24,225.44 L642.60,215.00 L642.93,206.78 L643.26,199.67 L643.60,198.00 L643.99,205.67 L644.41,218.78 L644.80,230.00 L645.11,239.22 L645.40,246.56 L645.80,245.00 L646.39,228.74 L647.09,203.59 L647.80,180.00 L648.51,158.56 L649.23,138.67 L649.90,129.00 L650.46,134.78 L650.96,150.78 L651.50,170.00 L652.13,191.52 L652.81,216.26 L653.50,240.00 L654.20,266.70 L654.90,292.41 L655.60,301.00 L656.26,280.11 L656.91,242.11 L657.60,208.00 L658.36,185.22 L659.16,166.33 L660.00,150.00 L660.94,133.67 L661.93,119.89 L662.80,115.00 L663.46,123.52 L663.99,140.93 L664.50,160.00 L665.02,178.30 L665.52,198.26 L666.00,220.00 L666.44,249.19 L666.86,280.15 L667.30,296.00 L667.76,285.56 L668.24,260.00 L668.80,236.00 L669.47,219.41 L670.22,204.37 L671.00,190.00 L671.82,175.74 L672.68,162.15 L673.50,150.00 L674.27,137.30 L675.01,126.04 L675.70,123.00 L676.32,132.33 L676.90,149.89 L677.50,170.00 L678.16,191.81 L678.84,216.19 L679.50,240.00 L680.14,265.37 L680.75,290.19 L681.30,305.00 L681.73,301.11 L682.09,287.22 L682.50,280.00 L683.03,291.67 L683.61,310.00 L684.20,315.00 L684.80,294.63 L685.42,260.93 L686.00,230.00 L686.54,207.30 L687.04,187.37 L687.50,170.00 L687.89,152.85 L688.23,138.26 L688.60,133.00 L689.04,142.33 L689.51,161.00 L690.00,180.00 L690.49,196.78 L690.98,213.89 L691.50,230.00 L692.05,246.63 L692.62,262.26 L693.20,271.00 L693.77,266.00 L694.36,254.11 L695.00,250.00 L695.75,265.89 L696.56,289.56 L697.30,299.00 L697.92,281.07 L698.47,248.93 L699.00,220.00 L699.53,200.22 L700.04,183.67 L700.50,170.00 L700.83,157.56 L701.11,148.00 L701.50,146.00 L702.09,155.96 L702.80,173.48 L703.50,190.00 L704.19,201.07 L704.88,211.15 L705.50,225.00 L706.00,250.04 L706.44,278.85 L706.90,294.00 L707.40,283.85 L707.93,260.04 L708.50,240.00 L709.14,231.19 L709.82,226.15 L710.50,220.00 L711.17,210.63 L711.84,200.15 L712.50,190.00 L713.16,177.67 L713.81,165.67 L714.40,163.00 L714.89,176.78 L715.33,199.89 L715.80,220.00 L716.33,232.37 L716.90,241.74 L717.50,250.00 L718.17,256.48 L718.87,261.85 L719.50,270.00 L720.00,286.85 L720.44,306.48 L720.90,315.00 L721.40,303.89 L721.93,281.67 L722.50,260.00 L723.12,241.89 L723.78,224.33 L724.50,210.00 L725.31,199.11 L726.19,191.44 L727.00,189.00 L727.69,194.78 L728.31,205.78 L729.00,215.00 L729.83,217.48 L730.71,218.19 L731.50,225.00 L732.11,246.44 L732.63,274.00 L733.20,290.00 L733.87,284.22 L734.58,266.89 L735.30,251.00 L736.00,240.96 L736.70,232.37 L737.50,225.00 L738.49,219.00 L739.56,214.22 L740.50,210.00 L741.18,206.00 L741.73,202.56 L742.30,200.00 L742.98,198.04 L743.69,196.96 L744.30,198.00 L744.74,201.96 L745.09,208.04 L745.50,215.00 L746.04,224.41 L746.65,234.70 L747.30,240.00 L747.97,236.78 L748.69,228.56 L749.50,220.00 L750.53,210.96 L751.66,201.59 L752.60,197.00 L753.17,200.56 L753.55,208.89 L754.00,217.00 L754.63,223.26 L755.33,229.30 L756.00,235.00 L756.60,238.93 L757.17,242.52 L757.80,250.00 L758.53,268.52 L759.31,290.93 L760.10,300.00 L760.88,284.22 L761.67,255.11 L762.50,230.00 L763.44,214.22 L764.43,202.44 L765.30,196.00 L765.96,195.37 L766.50,200.07 L767.00,210.00 L767.45,231.19 L767.85,257.59 L768.30,271.00 L768.83,260.07 L769.40,236.15 L770.00,215.00 L770.63,200.33 L771.29,188.44 L772.00,184.00 L772.81,191.63 L773.68,206.70 L774.50,220.00 L775.29,227.33 L776.03,232.89 L776.60,240.00 L776.89,253.93 L777.00,269.41 L777.20,274.00 L777.59,258.59 L778.06,232.30 L778.50,210.00 L778.83,195.93 L779.14,185.85 L779.60,182.00 L780.32,187.67 L781.18,199.56 L782.00,210.00 L782.70,215.41 L783.36,219.37 L784.00,225.00 L784.63,236.67 L785.26,250.00 L785.90,255.00 L786.59,245.00 L787.30,226.67 L788.00,210.00 L788.68,198.19 L789.35,188.04 L790.00,180.00 L790.64,171.89 L791.25,165.89 L791.80,169.00 L792.20,189.78 L792.53,219.67 L793.00,240.00 L793.76,241.37 L794.66,233.19 L795.50,225.00 L796.22,219.78 L796.89,214.56 L797.50,210.00 L798.04,206.04 L798.52,202.74 L799.00,201.00 L799.50,201.59 L800.00,203.74 L800.50,206.00 L800.97,209.04 L801.43,212.19 L802.00,212.00 L802.76,204.15 L803.63,192.96 L804.40,188.00 L804.98,194.63 L805.47,207.48 L806.00,220.00 L806.60,232.41 L807.24,244.48 L808.00,249.00 L808.93,240.26 L809.96,223.96 L811.00,210.00 L812.06,201.48 L813.11,195.30 L814.00,192.00 L814.60,188.44 L815.03,187.78 L815.50,200.00 L816.08,239.70 L816.70,292.30 L817.30,324.00 L817.87,315.93 L818.42,286.96 L819.00,260.00 L819.54,242.41 L820.11,226.81 L820.90,214.00 L822.12,203.37 L823.57,195.52 L824.80,193.00 L825.61,198.30 L826.21,208.93 L826.80,220.00 L827.47,232.70 L828.13,245.85 L828.70,251.00 L829.14,242.33 L829.49,225.67 L829.80,210.00 L830.05,195.93 L830.26,182.85 L830.60,178.00 L831.13,186.96 L831.78,204.15 L832.50,220.00 L833.26,231.41 L834.08,241.48 L835.00,250.00 L836.10,258.67 L837.29,265.78 L838.40,266.00 L839.34,254.85 L840.19,236.81 L841.00,220.00 L841.84,204.30 L842.64,189.81 L843.30,185.00 L843.66,198.37 L843.87,221.41 L844.30,237.00 L845.15,235.37 L846.21,226.30 L847.20,222.00 L848.04,227.37 L848.81,237.52 L849.50,250.00 L850.06,268.04 L850.53,288.41 L851.00,299.00 L851.50,292.19 L852.00,275.59 L852.50,260.00 L852.98,248.96 L853.46,238.93 L854.00,230.00 L854.63,220.37 L855.31,211.85 L856.00,210.00 L856.67,215.85 L857.33,228.37 L858.00,250.00 L858.67,292.52 L859.33,344.15 L860.00,372.00 L860.63,355.81 L861.26,315.85 L862.00,280.00 L862.94,257.70 L863.99,239.52 L865.00,225.00 L865.96,212.67 L866.88,204.00 L867.70,203.00 L868.41,213.04 L869.01,230.74 L869.50,250.00 L869.79,272.70 L869.96,296.96 L870.20,311.00 L870.56,308.19 L871.00,295.15 L871.60,280.00 L872.46,263.78 L873.48,245.44 L874.50,230.00 L875.50,219.41 L876.49,211.70 L877.40,206.00 L878.17,202.56 L878.85,201.11 L879.50,200.00 L880.14,194.89 L880.75,190.11 L881.30,197.00 L881.76,228.81 L882.16,272.30 L882.60,299.00 L883.10,293.22 L883.63,270.67 L884.20,250.00 L884.79,236.26 L885.42,224.41 L886.20,218.00 L887.20,220.00 L888.34,227.44 L889.50,235.00 L890.71,242.26 L891.94,249.63 L893.00,253.00 L893.78,249.44 L894.39,241.89 L895.00,235.00 L895.63,229.48 L896.26,224.63 L897.00,223.00 L897.94,226.59 L899.00,233.41 L900.00,240.00 L900.88,245.26 L901.70,250.30 L902.50,255.00 L903.29,261.04 L904.06,266.74 L904.80,267.00 L905.49,257.93 L906.15,243.41 L906.80,230.00 L907.44,218.44 L908.08,208.00 L908.70,203.00 L909.30,206.96 L909.88,216.37 L910.50,225.00 L911.11,230.74 L911.76,235.70 L912.60,240.00 L913.82,244.48 L915.24,248.30 L916.50,249.00 L917.44,244.85 L918.23,237.59 L919.00,230.00 L919.79,220.89 L920.55,211.44 L921.30,208.00 L922.05,214.59 L922.79,227.19 L923.50,240.00 L924.20,252.56 L924.86,265.33 L925.40,274.00 L925.70,275.93 L925.89,273.74 L926.20,271.00 L926.75,268.89 L927.43,266.22 L928.20,263.00 L929.07,259.41 L930.02,255.26 L931.00,250.00 L932.02,241.00 L933.07,230.89 L934.00,227.00 L934.74,233.96 L935.37,247.15 L936.00,260.00 L936.71,270.41 L937.41,280.48 L938.00,290.00 L938.32,300.19 L938.51,309.81 L938.90,315.00 L939.63,312.85 L940.54,306.26 L941.50,300.00 L942.50,296.70 L943.54,293.74 L944.50,288.00 L945.31,274.70 L946.03,258.63 L946.70,251.00 L947.36,258.70 L947.97,274.85 L948.50,290.00 L948.86,300.37 L949.13,309.74 L949.60,320.00 L950.41,334.15 L951.42,349.19 L952.40,358.00 L953.27,356.96 L954.11,349.70 L955.00,340.00 L955.96,327.44 L956.96,312.44 L958.00,300.00 L959.15,289.56 L960.34,281.67 L961.40,283.00 L962.21,300.70 L962.90,327.63 L963.60,349.00 L964.39,358.37 L965.21,362.19 L966.00,365.00 L966.74,369.81 L967.47,373.63 L968.20,372.00 L968.96,361.04 L969.74,344.63 L970.50,330.00 L971.24,317.85 L971.96,307.48 L972.70,304.00 L973.47,311.81 L974.25,326.52 L975.00,340.00 L975.65,350.44 L976.27,359.67 L977.00,365.00 L977.93,363.26 L978.96,357.63 L980.00,355.00 L981.00,359.74 L982.00,367.48 L983.00,372.00 L984.00,369.26 L985.00,363.30 L986.00,360.00 L986.96,363.04 L987.93,368.74 L989.00,372.00 L990.30,369.56 L991.70,364.67 L993.00,362.00 L994.05,364.93 L994.99,370.07 L996.00,372.00 L997.20,366.41 L998.47,357.59 L999.70,353.00 L1000.84,357.48 L1001.94,366.19 L1003.00,372.00 L1003.95,371.07 L1004.86,367.26 L1006.00,365.00 L1007.70,366.56 L1009.63,369.67 L1011.00,372.00" fill="none" stroke="#474747" stroke-width="3.5" stroke-linejoin="round"/>
<g mask="url(#h1)"><g mask="url(#v1)"><path d="M624.73,19.81 L624.74,139.00 L624.84,131.70 L625.42,151.53 L625.44,64.00 L625.56,89.23 L626.74,159.00 L628.36,165.32 L630.30,169.00 L630.69,170.74 L631.62,164.00 L633.70,162.28 L634.67,67.01 L634.93,66.00 L635.03,79.00 L635.55,95.13 L635.80,133.57 L635.92,68.91 L636.00,114.00 L636.79,79.00 L637.73,117.41 L638.26,154.00 L638.49,176.26 L639.46,214.00 L640.34,223.05 L642.01,246.00 L643.72,227.51 L644.80,219.00 L645.12,234.00 L645.15,221.54 L645.46,208.99 L645.47,202.00 L645.69,248.70 L646.79,180.18 L646.92,210.07 L646.93,184.00 L646.98,144.03 L648.08,133.00 L649.73,147.45 L652.36,174.00 L653.83,218.22 L654.25,244.00 L655.00,261.01 L656.28,212.00 L657.01,295.54 L657.01,176.97 L657.32,263.55 L657.33,305.00 L659.19,154.00 L660.72,141.50 L662.06,118.84 L662.68,119.00 L665.05,139.10 L666.75,300.00 L666.83,164.00 L667.03,224.00 L667.28,181.55 L668.07,249.42 L668.37,240.00 L668.70,223.52 L668.81,195.20 L671.09,181.08 L674.52,154.32 L676.00,139.50 L676.49,127.00 L677.99,234.14 L678.04,157.13 L678.23,275.42 L678.74,174.00 L678.91,197.51 L679.84,309.00 L680.81,302.33 L682.41,284.00 L682.92,289.61 L684.02,313.49 L686.34,264.34 L688.00,234.00 L688.03,147.60 L688.09,137.00 L688.82,210.19 L688.94,184.00 L688.98,174.00 L690.49,230.55 L690.87,259.01 L691.56,275.00 L692.58,270.55 L696.08,256.66 L698.10,279.71 L698.18,303.00 L699.03,248.19 L699.52,150.00 L699.66,224.00 L699.70,159.72 L699.87,168.46 L700.16,174.00 L700.27,202.48 L702.13,190.72 L704.95,215.19 L706.01,229.00 L707.71,298.00 L709.54,224.00 L710.10,201.72 L710.11,254.89 L710.60,244.00 L710.64,236.94 L711.44,194.00 L712.06,192.72 L713.05,166.81 L713.21,167.00 L714.29,205.81 L715.44,224.00 L717.46,231.62 L719.77,254.00 L719.89,274.00 L720.05,266.22 L720.11,290.01 L720.96,319.00 L721.41,302.47 L721.44,235.55 L721.72,264.00 L722.47,214.00 L723.44,205.91 L726.76,198.27 L728.17,193.00 L728.39,199.56 L729.26,211.36 L729.98,219.00 L731.14,294.00 L731.22,222.07 L731.27,252.62 L731.89,229.00 L732.26,228.49 L733.44,269.70 L734.78,255.00 L735.20,253.30 L736.25,235.48 L737.29,229.00 L738.81,222.06 L741.39,209.86 L741.65,215.67 L741.70,204.00 L741.98,214.00 L742.39,206.35 L743.42,219.81 L743.44,200.91 L744.88,229.48 L747.16,244.00 L748.34,243.79 L750.56,233.49 L750.84,224.00 L751.02,222.92 L752.26,214.67 L752.63,233.74 L752.82,221.00 L753.10,220.68 L753.65,205.53 L754.45,239.00 L757.22,248.29 L757.82,254.00 L758.40,273.21 L760.23,295.61 L761.19,304.00 L762.90,222.01 L763.02,280.51 L763.35,213.75 L763.57,234.00 L763.85,247.53 L764.47,200.00 L764.95,206.42 L765.52,213.40 L766.55,267.26 L769.76,239.57 L771.67,219.00 L772.54,208.96 L772.95,188.00 L772.96,196.10 L773.39,199.01 L774.28,240.38 L774.79,218.69 L774.89,278.00 L774.91,226.74 L775.06,224.00 L775.93,252.53 L778.06,214.00 L779.02,203.32 L780.19,186.00 L780.66,187.21 L781.84,203.80 L783.15,214.00 L784.21,214.48 L784.29,259.00 L784.61,247.84 L785.45,229.00 L785.54,222.63 L786.26,231.29 L787.23,214.00 L787.62,206.07 L788.47,192.43 L788.93,184.00 L791.14,181.55 L793.65,173.00 L794.27,193.88 L794.69,230.16 L794.97,246.92 L795.02,244.00 L795.53,229.00 L796.16,205.74 L796.39,214.00 L796.58,217.81 L796.74,205.00 L797.30,207.18 L800.60,210.00 L802.87,218.45 L803.11,216.00 L803.67,205.85 L805.33,193.71 L805.74,250.52 L805.87,192.00 L805.94,253.00 L806.42,231.45 L806.89,224.00 L806.97,214.19 L807.44,238.14 L809.59,223.40 L810.37,214.00 L810.61,212.12 L812.60,205.24 L815.73,201.09 L816.22,248.21 L816.31,196.00 L816.59,204.00 L816.71,328.00 L816.91,203.82 L818.04,287.67 L818.19,245.56 L818.24,264.00 L818.90,218.00 L822.02,212.09 L824.92,207.89 L825.67,194.52 L825.76,197.00 L826.51,207.80 L827.31,229.50 L827.50,214.00 L827.65,255.00 L828.05,224.00 L828.21,249.69 L828.60,186.42 L831.36,203.50 L832.52,224.00 L832.87,228.89 L834.25,241.70 L836.28,254.00 L837.01,253.88 L837.57,270.00 L837.75,259.05 L837.94,262.66 L838.68,263.70 L839.29,243.52 L840.11,224.00 L840.21,222.60 L840.77,198.48 L842.27,189.00 L843.40,205.92 L845.22,241.00 L846.72,235.50 L847.75,230.02 L847.82,226.00 L849.11,303.98 L849.16,242.10 L849.87,254.00 L849.89,274.44 L850.78,264.00 L852.90,243.99 L854.43,234.00 L855.10,228.06 L856.12,221.52 L856.51,214.00 L858.20,231.41 L859.00,355.12 L859.11,376.00 L859.76,337.94 L860.10,254.00 L860.39,295.70 L860.91,284.00 L862.12,266.83 L862.87,243.53 L864.16,229.00 L864.88,223.41 L868.26,218.09 L869.44,237.35 L869.56,254.00 L869.78,207.00 L870.10,305.99 L871.05,272.86 L871.28,290.34 L871.35,284.00 L871.41,247.23 L873.15,234.00 L874.30,233.39 L877.18,220.58 L878.19,206.73 L879.46,202.37 L880.50,262.41 L880.57,303.00 L881.16,201.00 L881.17,204.00 L881.48,279.93 L881.55,202.87 L883.29,254.00 L883.83,247.91 L885.09,225.70 L885.51,222.00 L886.54,220.85 L889.60,230.80 L891.12,252.55 L891.20,239.20 L891.64,240.03 L892.48,261.39 L893.00,239.00 L893.01,246.06 L893.20,233.25 L895.67,226.32 L897.18,227.00 L899.03,232.09 L900.34,234.61 L900.79,244.00 L902.23,270.06 L902.48,254.45 L902.53,271.00 L903.20,259.00 L905.33,242.73 L906.70,234.00 L907.32,231.20 L908.44,213.54 L910.87,222.40 L912.34,240.63 L912.60,244.00 L912.67,229.00 L913.06,237.79 L913.23,236.26 L913.53,248.13 L914.85,256.12 L915.08,253.00 L915.23,248.32 L917.12,236.05 L919.78,234.00 L920.63,233.13 L922.45,222.22 L922.49,212.00 L922.50,219.21 L923.45,238.98 L923.87,275.00 L924.10,278.32 L924.11,275.68 L924.19,244.00 L924.62,257.32 L926.68,268.82 L928.00,267.00 L929.41,259.39 L930.54,259.94 L931.64,254.00 L932.20,254.25 L933.81,247.12 L934.40,264.00 L934.56,240.37 L934.60,231.00 L934.88,236.64 L936.49,284.87 L937.14,294.00 L937.40,305.92 L937.66,319.00 L938.78,316.88 L942.03,306.61 L943.54,304.00 L944.32,300.94 L944.39,301.77 L944.49,292.00 L945.80,275.32 L945.80,286.20 L946.07,255.00 L946.22,294.00 L948.00,314.33 L948.87,324.00 L951.27,333.80 L952.75,354.85 L953.17,362.00 L953.68,359.56 L955.50,321.40 L955.67,310.84 L955.68,352.48 L956.12,304.00 L956.55,344.95 L956.57,344.00 L957.93,302.86 L959.59,292.41 L960.68,290.15 L963.36,317.15 L965.70,369.00 L965.94,353.00 L966.23,361.84 L966.81,373.04 L967.67,376.00 L967.75,350.93 L967.77,368.31 L968.55,334.00 L969.41,329.55 L972.90,316.45 L974.24,308.00 L974.93,312.41 L975.38,338.08 L975.77,344.00 L976.71,351.76 L977.00,357.13 L977.32,360.99 L977.99,363.80 L978.06,359.00 L979.22,365.92 L981.66,373.01 L982.80,377.05 L984.75,367.68 L987.16,374.77 L987.50,362.90 L987.78,376.09 L988.11,362.43 L988.21,364.00 L989.35,369.77 L989.85,372.26 L991.03,369.67 L992.25,366.00 L994.35,365.84 L996.96,371.00 L997.27,376.00 L997.79,370.90 L998.61,367.84 L999.16,357.00 L999.18,365.81 L1000.47,370.44 L1002.85,376.00 L1003.52,372.54 L1005.04,376.33 L1006.29,373.02 L1006.83,369.00 L1008.70,372.15 L1008.83,374.60 L1008.83,372.85 L1009.52,376.00 L1009.84,373.72" fill="none" stroke="#474747" stroke-width="2.6" stroke-linejoin="round"/></g></g>
<path d="M622.99,17.00 L623.86,56.00 L623.95,45.68 L624.02,36.60 L624.07,28.61 L624.11,21.57 L624.14,15.38 L624.17,9.38 L624.20,3.38 L624.22,-2.62 L624.24,-8.62 L624.25,-14.62 L624.27,-20.62 L624.28,-26.62 L624.28,-30.00 L624.32,-30.00 L624.32,-26.62 L624.33,-20.62 L624.35,-14.62 L624.36,-8.62 L624.38,-2.62 L624.40,3.38 L624.43,9.38 L624.46,15.38 L624.49,21.57 L624.53,28.61 L624.58,36.60 L624.65,45.68 L624.74,56.00 L625.70,117.89 L626.17,135.00 L626.69,143.96 L627.31,155.00 L628.27,162.14 L629.57,164.55 L631.04,165.97 L632.38,160.18 L633.35,160.20 L633.90,161.86 L634.17,150.60 L634.40,118.58 L634.56,110.00 L634.84,100.83 L635.53,76.33 L636.37,63.98 L637.03,50.00 L637.59,68.12 L637.72,75.00 L637.77,92.40 L637.80,123.31 L637.89,150.00 L638.51,195.15 L638.88,210.00 L639.49,224.92 L640.59,242.00 L642.11,224.28 L642.63,215.00 L643.23,208.01 L643.95,273.00 L644.64,226.51 L644.97,230.00 L645.24,248.58 L646.05,245.00 L647.12,221.30 L648.33,200.53 L649.28,180.00 L650.15,152.25 L650.41,135.88 L650.45,125.68 L650.46,106.00 L650.61,167.13 L651.17,189.46 L652.02,213.29 L652.95,240.00 L653.72,258.36 L654.24,265.77 L654.62,255.19 L655.08,258.82 L655.84,234.26 L656.82,208.00 L658.45,265.00 L659.90,169.36 L661.09,162.24 L661.39,127.95 L661.71,109.00 L661.95,92.32 L662.13,77.64 L662.27,64.72 L662.38,53.35 L662.47,43.35 L662.53,34.55 L662.58,26.80 L662.62,19.99 L662.65,13.99 L662.68,7.99 L662.70,1.99 L662.72,-4.01 L662.74,-10.01 L662.76,-16.01 L662.77,-22.01 L662.78,-28.01 L662.78,-30.00 L662.82,-30.00 L662.82,-28.01 L662.83,-22.01 L662.84,-16.01 L662.86,-10.01 L662.88,-4.01 L662.90,1.99 L662.92,7.99 L662.95,13.99 L662.98,19.99 L663.02,26.80 L663.07,34.55 L663.13,43.35 L663.22,53.35 L663.33,64.72 L663.47,77.64 L663.65,92.32 L663.89,109.00 L664.21,127.95 L664.58,144.42 L665.19,160.00 L666.02,198.01 L666.26,220.00 L666.27,252.22 L666.28,257.12 L666.59,263.27 L667.18,292.00 L668.42,217.49 L669.69,203.43 L670.85,190.00 L671.75,181.34 L672.39,176.26 L672.98,156.44 L673.38,150.00 L673.73,148.49 L674.37,123.89 L674.67,105.42 L674.89,89.17 L675.07,74.87 L675.20,62.29 L675.30,51.21 L675.38,41.47 L675.44,32.89 L675.49,25.34 L675.53,18.70 L675.56,12.70 L675.58,6.70 L675.61,0.70 L675.63,-5.30 L675.65,-11.30 L675.66,-17.30 L675.67,-23.30 L675.68,-29.30 L675.68,-30.00 L675.72,-30.00 L675.72,-29.30 L675.73,-23.30 L675.74,-17.30 L675.75,-11.30 L675.77,-5.30 L675.79,0.70 L675.82,6.70 L675.84,12.70 L675.87,18.70 L675.91,25.34 L675.96,32.89 L676.02,41.47 L676.10,51.21 L676.20,62.29 L676.33,74.87 L676.51,89.17 L676.73,105.42 L677.03,123.89 L678.27,147.55 L678.82,164.39 L678.96,210.06 L678.97,193.11 L679.06,241.02 L679.48,264.93 L680.20,253.61 L680.82,261.73 L681.84,265.47 L682.11,259.30 L682.38,252.21 L682.70,256.06 L682.95,258.19 L683.56,257.78 L684.51,244.26 L685.05,230.00 L685.84,214.55 L686.69,153.50 L687.13,131.48 L687.46,112.11 L687.71,95.05 L687.91,80.05 L688.05,66.84 L688.17,55.22 L688.25,44.99 L688.32,35.99 L688.37,28.08 L688.41,21.11 L688.45,14.97 L688.47,8.97 L688.50,2.97 L688.52,-3.03 L688.54,-9.03 L688.55,-15.03 L688.57,-21.03 L688.58,-27.03 L688.58,-30.00 L688.62,-30.00 L688.62,-27.03 L688.63,-21.03 L688.65,-15.03 L688.66,-9.03 L688.68,-3.03 L688.70,2.97 L688.73,8.97 L688.75,14.97 L688.79,21.11 L688.83,28.08 L688.88,35.99 L688.95,44.99 L689.03,55.22 L689.15,66.84 L689.29,80.05 L689.49,95.05 L689.74,112.11 L690.07,131.48 L690.51,153.50 L691.15,199.55 L691.81,221.87 L692.69,239.93 L693.63,258.10 L694.20,257.41 L694.79,261.92 L694.79,253.81 L694.85,251.79 L694.88,263.37 L695.34,263.68 L695.81,264.87 L696.23,255.06 L697.38,294.00 L698.53,220.00 L699.70,148.49 L700.11,127.07 L700.42,108.22 L700.66,91.63 L700.84,77.04 L700.98,64.19 L701.09,52.89 L701.17,42.94 L701.23,34.19 L701.28,26.49 L701.32,19.71 L701.35,13.71 L701.38,7.71 L701.40,1.71 L701.42,-4.29 L701.44,-10.29 L701.46,-16.29 L701.47,-22.29 L701.48,-28.29 L701.48,-30.00 L701.52,-30.00 L701.52,-28.29 L701.53,-22.29 L701.54,-16.29 L701.56,-10.29 L701.58,-4.29 L701.60,1.71 L701.62,7.71 L701.65,13.71 L701.68,19.71 L701.72,26.49 L701.77,34.19 L701.83,42.94 L701.91,52.89 L702.02,64.19 L702.16,77.04 L702.34,91.63 L702.58,108.22 L702.89,127.07 L703.30,148.49 L704.19,190.00 L704.97,195.66 L706.17,208.05 L706.99,222.40 L707.36,250.07 L707.45,259.38 L707.53,262.84 L707.84,288.00 L708.16,240.00 L708.46,239.44 L709.27,228.14 L710.06,221.66 L710.34,220.00 L710.62,214.91 L710.93,213.03 L711.12,195.25 L711.65,188.52 L712.30,162.29 L712.78,139.22 L713.15,118.91 L713.43,101.04 L713.64,85.32 L713.80,71.48 L713.93,59.30 L714.02,48.59 L714.10,39.16 L714.15,30.86 L714.20,23.55 L714.23,17.13 L714.26,11.13 L714.29,5.13 L714.31,-0.87 L714.33,-6.87 L714.35,-12.87 L714.36,-18.87 L714.37,-24.87 L714.38,-30.00 L714.42,-30.00 L714.43,-24.87 L714.44,-18.87 L714.45,-12.87 L714.47,-6.87 L714.49,-0.87 L714.51,5.13 L714.54,11.13 L714.57,17.13 L714.60,23.55 L714.65,30.86 L714.70,39.16 L714.78,48.59 L714.87,59.30 L715.00,71.48 L715.16,85.32 L715.37,101.04 L715.65,118.91 L716.02,139.22 L716.50,162.29 L717.15,188.52 L718.12,242.35 L718.37,250.00 L718.65,257.01 L719.14,260.91 L719.79,260.00 L720.69,262.48 L721.71,254.15 L722.63,265.40 L723.23,258.34 L723.33,219.89 L723.38,234.51 L723.39,252.89 L723.39,210.00 L723.43,251.12 L723.58,204.20 L724.08,195.25 L724.84,168.22 L725.41,144.43 L725.84,123.50 L726.17,105.08 L726.42,88.87 L726.61,74.61 L726.75,62.05 L726.86,51.01 L726.95,41.29 L727.02,32.73 L727.07,25.20 L727.11,18.58 L727.14,12.58 L727.17,6.58 L727.20,0.58 L727.22,-5.42 L727.24,-11.42 L727.26,-17.42 L727.27,-23.42 L727.28,-29.42 L727.28,-30.00 L727.32,-30.00 L727.32,-29.42 L727.33,-23.42 L727.34,-17.42 L727.36,-11.42 L727.38,-5.42 L727.40,0.58 L727.43,6.58 L727.46,12.58 L727.49,18.58 L727.53,25.20 L727.58,32.73 L727.65,41.29 L727.74,51.01 L727.85,62.05 L727.99,74.61 L728.18,88.87 L728.43,105.08 L728.76,123.50 L729.19,144.43 L729.76,168.22 L730.52,195.25 L731.08,221.99 L731.67,225.00 L732.49,295.00 L733.86,261.50 L734.81,265.91 L735.56,238.29 L735.83,229.73 L735.93,228.18 L736.42,207.88 L737.31,179.34 L737.99,154.22 L738.50,132.11 L738.88,112.66 L739.17,95.54 L739.40,80.47 L739.57,67.22 L739.70,55.55 L739.80,45.28 L739.88,36.25 L739.94,28.30 L739.98,21.30 L740.02,15.15 L740.05,9.15 L740.08,3.15 L740.11,-2.85 L740.13,-8.85 L740.15,-14.85 L740.16,-20.85 L740.17,-26.85 L740.18,-30.00 L740.22,-30.00 L740.23,-26.85 L740.24,-20.85 L740.25,-14.85 L740.27,-8.85 L740.29,-2.85 L740.32,3.15 L740.35,9.15 L740.38,15.15 L740.42,21.30 L740.46,28.30 L740.52,36.25 L740.60,45.28 L740.70,55.55 L740.83,67.22 L741.00,80.47 L741.23,95.54 L741.52,112.66 L741.90,132.11 L742.41,154.22 L743.09,179.34 L743.98,207.88 L744.54,198.00 L745.83,210.67 L746.14,215.00 L746.48,225.45 L747.02,227.86 L747.66,223.54 L748.58,223.37 L749.66,192.96 L750.47,166.21 L751.08,142.66 L751.54,121.94 L751.89,103.71 L752.15,87.66 L752.36,73.54 L752.51,61.12 L752.63,50.18 L752.72,40.56 L752.80,32.10 L752.85,24.64 L752.90,18.09 L752.93,12.09 L752.96,6.09 L752.99,0.09 L753.02,-5.91 L753.04,-11.91 L753.05,-17.91 L753.07,-23.91 L753.08,-29.91 L753.08,-30.00 L753.12,-30.00 L753.12,-29.91 L753.13,-23.91 L753.15,-17.91 L753.16,-11.91 L753.18,-5.91 L753.21,0.09 L753.24,6.09 L753.27,12.09 L753.30,18.09 L753.35,24.64 L753.40,32.10 L753.48,40.56 L753.57,50.18 L753.69,61.12 L753.84,73.54 L754.05,87.66 L754.31,103.71 L754.66,121.94 L755.12,142.66 L755.73,166.21 L756.54,192.96 L757.62,223.37 L758.56,229.91 L759.92,221.93 L761.39,227.80 L762.59,192.00 L763.39,165.36 L764.00,141.92 L764.45,121.29 L764.80,103.13 L765.06,87.16 L765.26,73.10 L765.42,60.73 L765.54,49.84 L765.63,40.26 L765.70,31.83 L765.75,24.41 L765.80,17.88 L765.83,11.88 L765.86,5.88 L765.89,-0.12 L765.92,-6.12 L765.94,-12.12 L765.95,-18.12 L765.97,-24.12 L765.98,-30.00 L766.02,-30.00 L766.03,-24.12 L766.05,-18.12 L766.06,-12.12 L766.08,-6.12 L766.11,-0.12 L766.14,5.88 L766.17,11.88 L766.20,17.88 L766.25,24.41 L766.30,31.83 L766.37,40.26 L766.46,49.84 L766.58,60.73 L766.74,73.10 L766.94,87.16 L767.20,103.13 L767.55,121.29 L768.00,141.92 L768.61,165.36 L769.41,192.00 L769.79,199.87 L771.11,186.78 L772.42,189.88 L773.48,200.73 L774.24,219.21 L774.73,220.00 L775.44,219.81 L776.30,233.89 L777.25,233.70 L778.29,229.65 L779.66,185.44 L780.08,147.00 L780.30,166.86 L780.49,198.89 L780.49,187.16 L780.53,178.47 L780.75,206.67 L781.07,210.00 L781.39,211.72 L782.27,216.96 L783.18,223.35 L783.52,217.59 L783.90,225.08 L784.38,230.03 L784.76,229.89 L785.26,216.69 L786.10,216.23 L787.33,217.49 L788.80,199.14 L790.23,191.40 L791.34,180.00 L792.05,176.05 L792.44,163.72 L792.61,153.00 L792.75,189.31 L793.22,228.91 L793.94,216.46 L794.81,217.73 L795.62,215.11 L796.10,225.00 L796.34,211.95 L796.35,210.00 L796.35,219.91 L796.75,209.31 L797.42,201.00 L798.73,205.46 L800.00,206.00 L801.12,215.94 L801.95,213.19 L802.57,195.55 L803.17,178.49 L803.97,161.64 L804.57,152.00 L805.07,166.24 L806.35,194.81 L807.41,220.00 L808.48,216.97 L808.94,216.13 L809.03,218.35 L809.03,217.43 L809.18,228.93 L809.66,220.31 L810.43,210.00 L811.30,207.42 L812.03,208.05 L812.52,195.44 L812.81,206.98 L813.15,197.06 L813.77,198.22 L814.17,200.00 L814.81,190.32 L816.19,178.39 L817.67,163.00 L818.96,202.50 L819.88,222.50 L820.16,233.59 L820.45,233.79 L820.84,232.23 L821.32,214.99 L822.03,210.96 L822.94,207.13 L823.86,201.74 L824.56,200.43 L824.84,212.68 L824.89,195.43 L824.92,193.00 L825.00,213.06 L825.26,220.00 L825.55,225.26 L826.51,226.51 L827.68,235.17 L828.80,226.57 L829.58,210.00 L830.33,152.00 L830.90,188.75 L831.61,200.59 L832.31,220.00 L833.93,231.92 L835.29,224.37 L836.43,228.61 L837.15,236.45 L837.46,223.37 L837.52,238.91 L837.63,233.14 L838.00,232.77 L838.67,235.08 L839.50,224.19 L840.25,223.82 L840.71,220.00 L841.03,203.81 L841.23,194.52 L841.63,165.89 L842.43,210.15 L843.08,227.26 L843.64,235.32 L845.08,226.12 L846.47,234.77 L847.57,236.53 L848.13,222.00 L848.81,227.83 L849.31,239.08 L850.01,228.09 L850.95,235.15 L851.97,238.49 L852.85,242.89 L853.36,228.64 L853.39,230.00 L853.42,226.99 L853.42,233.93 L853.50,245.49 L853.74,203.85 L854.47,188.12 L855.50,197.45 L856.58,229.43 L857.49,243.22 L858.15,230.07 L858.67,243.69 L859.28,244.29 L860.18,244.77 L861.41,247.28 L862.63,242.19 L864.17,246.10 L865.15,241.32 L865.70,243.74 L865.92,229.17 L866.05,220.98 L866.36,222.90 L866.95,210.14 L867.74,203.00 L868.53,191.33 L869.10,187.29 L869.29,178.00 L869.38,232.53 L869.45,238.64 L869.49,241.28 L869.69,236.32 L869.94,243.38 L870.23,249.98 L871.21,240.32 L872.53,245.63 L873.94,240.99 L874.84,230.00 L876.04,222.24 L876.65,218.25 L877.19,209.28 L877.76,206.00 L878.82,201.33 L879.93,204.10 L880.84,200.00 L881.71,198.38 L881.96,240.03 L882.03,226.98 L882.03,197.11 L882.06,197.00 L882.10,243.01 L882.62,240.85 L883.08,239.77 L883.48,245.44 L884.49,246.05 L885.39,222.13 L885.71,218.00 L886.06,219.87 L886.53,223.95 L887.02,227.08 L887.76,232.15 L888.87,234.51 L890.27,239.32 L891.72,242.63 L892.94,240.05 L893.74,245.45 L894.15,247.79 L894.37,236.33 L894.67,213.31 L895.21,193.00 L895.98,204.25 L896.81,213.99 L897.39,223.00 L897.82,229.59 L897.90,231.02 L897.95,236.88 L898.25,240.28 L898.97,251.65 L900.10,245.87 L901.44,251.31 L902.37,250.55 L903.71,256.80 L904.42,243.95 L904.99,254.41 L905.65,251.70 L906.57,249.47 L907.55,230.00 L908.91,215.51 L909.88,199.12 L910.26,190.00 L910.44,194.45 L910.54,224.71 L910.57,230.42 L910.60,207.77 L910.91,233.18 L911.61,252.11 L912.52,248.92 L913.40,244.56 L914.08,243.24 L914.52,244.92 L914.90,248.28 L915.26,249.00 L916.38,242.02 L917.68,246.24 L919.16,233.64 L920.54,225.79 L921.58,227.73 L922.20,221.12 L922.43,208.00 L922.56,218.80 L922.89,237.00 L923.40,231.75 L923.93,240.00 L925.05,254.20 L925.82,262.34 L926.06,251.58 L926.28,267.81 L926.39,259.74 L926.40,262.05 L926.42,258.70 L926.49,251.47 L926.63,251.67 L926.94,259.68 L927.84,256.02 L929.04,256.96 L930.30,250.58 L930.79,250.00 L931.37,255.39 L932.15,242.24 L932.74,236.93 L933.37,229.11 L933.95,227.00 L935.38,243.23 L936.67,255.51 L937.37,260.00 L937.85,264.93 L938.66,274.26 L939.04,279.60 L939.09,270.43 L939.09,282.52 L939.10,266.42 L939.31,275.88 L939.86,269.15 L940.66,273.25 L941.04,282.40 L941.52,284.96 L942.21,282.82 L942.65,279.82 L942.93,286.02 L943.17,284.96 L944.01,286.12 L945.13,261.45 L946.34,251.00 L948.01,274.65 L949.24,283.06 L949.65,290.00 L950.08,302.58 L950.59,320.00 L950.99,342.28 L951.50,350.63 L952.26,347.89 L953.19,358.00 L954.09,345.28 L954.71,330.08 L954.91,307.19 L954.97,330.95 L954.97,310.00 L955.13,313.23 L955.77,308.18 L956.79,300.00 L957.98,294.55 L959.06,287.27 L959.89,287.29 L960.50,279.24 L960.99,272.00 L961.85,298.02 L962.93,332.35 L964.26,349.00 L965.60,345.11 L966.67,319.82 L967.31,304.40 L967.45,300.00 L967.54,311.92 L967.60,334.66 L967.74,360.48 L967.95,372.00 L968.18,366.10 L968.89,355.45 L969.72,355.44 L970.35,330.00 L970.89,317.04 L971.13,308.64 L971.34,294.00 L971.81,320.18 L972.70,322.01 L973.97,342.88 L975.43,347.82 L976.78,357.42 L977.80,366.11 L978.48,358.04 L978.96,360.29 L979.49,339.87 L980.24,334.68 L980.64,330.00 L981.21,334.20 L982.23,343.11 L983.04,357.19 L983.46,353.88 L983.48,364.01 L983.51,336.64 L983.56,372.00 L983.91,320.64 L984.72,305.00 L985.78,318.26 L986.84,335.77 L987.70,349.66 L988.32,366.01 L988.84,364.46 L989.49,357.13 L990.46,353.40 L991.75,340.57 L993.18,329.98 L994.46,320.00 L995.36,339.55 L995.82,356.12 L996.00,355.38 L996.15,366.90 L996.51,363.49 L997.16,354.88 L997.97,338.80 L998.73,332.22 L999.24,319.78 L999.40,312.00 L999.47,319.66 L999.57,330.75 L999.82,346.98 L1000.45,356.74 L1001.51,369.71 L1002.88,370.04 L1004.26,354.79 L1005.42,350.72 L1006.24,337.96 L1006.59,335.00 L1006.82,335.26 L1007.37,345.42 L1008.10,333.62 L1009.09,337.18 L1010.21,333.66 L1011.21,328.24 L1011.87,324.38 L1012.08,325.00" fill="none" stroke="#ec2e2e" stroke-width="0.95" stroke-opacity="0.95" stroke-linejoin="round"/>
<path d="M962.00,346.58 L963.44,363.11 L965.51,336.14 L967.11,378.11 L968.17,350.57 L969.92,362.93 L971.37,355.19 L972.91,375.33 L974.07,344.30 L975.17,371.93 L977.31,354.01 L979.26,370.63 L981.18,342.84 L982.51,375.32 L984.40,351.64 L985.47,370.00 L986.70,348.70 L988.70,369.73 L990.79,364.68 L991.82,372.52 L993.41,343.94 L994.92,378.95 L996.02,358.93 L997.13,375.49 L999.24,349.89 L1000.21,370.92 L1001.86,346.28 L1002.93,375.64 L1005.07,357.81 L1006.54,377.46 L1007.62,362.96 L1008.80,377.65 L1010.99,351.35" fill="none" stroke="#474747" stroke-width="1.8"/>
<path d="M953.00,319.83 L954.51,350.01 L955.48,294.70 L956.84,346.51 L958.29,298.00 L959.75,329.49 L961.24,305.89 L962.35,350.01 L963.73,297.81 L964.98,368.44 L965.95,317.84 L967.33,371.39 L968.37,301.18 L969.86,368.80 L971.01,299.00 L971.92,358.42 L972.92,318.85 L974.20,333.43 L975.55,307.66 L977.17,375.11 L978.38,318.80 L979.77,370.21 L981.43,304.69 L982.50,359.38 L983.51,317.22 L984.31,373.63 L985.54,303.96 L986.90,342.23 L987.80,313.43 L988.66,338.72 L990.21,322.80 L990.94,369.25 L991.68,316.12 L993.26,362.84 L994.28,318.52 L995.37,339.23 L997.05,308.45 L998.18,367.65 L999.28,330.04 L1000.23,378.97 L1001.81,323.90 L1003.38,354.57 L1004.90,330.70 L1006.12,357.37 L1007.52,324.11 L1008.32,369.82 L1009.29,328.18 L1010.77,349.14 L1011.51,321.09" fill="none" stroke="#ee3030" stroke-width="0.8" stroke-opacity="0.75"/>
</g>
<rect x="857.2" y="26.5" width="146.6" height="109.9" fill="#fff"/>
<path d="M857.20,78.51 L857.70,79.50 L858.20,80.50 L858.70,81.50 L859.20,82.50 L859.70,83.49 L860.20,84.49 L860.70,85.49 L861.20,86.48 L861.70,87.47 L862.20,88.46 L862.70,89.44 L863.20,90.42 L863.70,91.40 L864.20,92.37 L864.70,93.34 L865.20,94.30 L865.70,95.25 L866.20,96.20 L866.70,97.14 L867.20,98.08 L867.70,99.00 L868.20,99.92 L868.70,100.83 L869.20,101.73 L869.70,102.62 L870.20,103.51 L870.70,104.38 L871.20,105.24 L871.70,106.09 L872.20,106.93 L872.70,107.75 L873.20,108.57 L873.70,109.37 L874.20,110.16 L874.70,110.94 L875.20,111.70 L875.70,112.45 L876.20,113.18 L876.70,113.90 L877.20,114.61 L877.70,115.30 L878.20,115.97 L878.70,116.63 L879.20,117.27 L879.70,117.90 L880.20,118.51 L880.70,119.10 L881.20,119.67 L881.70,120.23 L882.20,120.77 L882.70,121.29 L883.20,121.79 L883.70,122.28 L884.20,122.74 L884.70,123.19 L885.20,123.62 L885.70,124.02 L886.20,124.41 L886.70,124.78 L887.20,125.13 L887.70,125.46 L888.20,125.77 L888.70,126.05 L889.20,126.32 L889.70,126.57 L890.20,126.79 L890.70,127.00 L891.20,127.18 L891.70,127.35 L892.20,127.49 L892.70,127.61 L893.20,127.71 L893.70,127.79 L894.20,127.85 L894.70,127.88 L895.20,127.90 L895.70,127.89 L896.20,127.87 L896.70,127.82 L897.20,127.75 L897.70,127.65 L898.20,127.54 L898.70,127.41 L899.20,127.25 L899.70,127.08 L900.20,126.88 L900.70,126.66 L901.20,126.42 L901.70,126.16 L902.20,125.88 L902.70,125.58 L903.20,125.26 L903.70,124.92 L904.20,124.56 L904.70,124.18 L905.20,123.78 L905.70,123.36 L906.20,122.92 L906.70,122.46 L907.20,121.99 L907.70,121.49 L908.20,120.98 L908.70,120.45 L909.20,119.90 L909.70,119.33 L910.20,118.75 L910.70,118.14 L911.20,117.52 L911.70,116.89 L912.20,116.24 L912.70,115.57 L913.20,114.89 L913.70,114.19 L914.20,113.47 L914.70,112.74 L915.20,112.00 L915.70,111.24 L916.20,110.47 L916.70,109.69 L917.20,108.89 L917.70,108.08 L918.20,107.26 L918.70,106.43 L919.20,105.58 L919.70,104.72 L920.20,103.86 L920.70,102.98 L921.20,102.09 L921.70,101.19 L922.20,100.29 L922.70,99.37 L923.20,98.45 L923.70,97.52 L924.20,96.58 L924.70,95.63 L925.20,94.68 L925.70,93.72 L926.20,92.76 L926.70,91.79 L927.20,90.81 L927.70,89.83 L928.20,88.85 L928.70,87.86 L929.20,86.87 L929.70,85.88 L930.20,84.89 L930.70,83.89 L931.20,82.90 L931.70,81.90 L932.20,80.90 L932.70,79.90 L933.20,78.91 L933.70,77.91 L934.20,76.91 L934.70,75.92 L935.20,74.93 L935.70,73.94 L936.20,72.96 L936.70,71.98 L937.20,71.00 L937.70,70.03 L938.20,69.06 L938.70,68.10 L939.20,67.15 L939.70,66.20 L940.20,65.26 L940.70,64.32 L941.20,63.40 L941.70,62.48 L942.20,61.57 L942.70,60.67 L943.20,59.78 L943.70,58.89 L944.20,58.02 L944.70,57.16 L945.20,56.31 L945.70,55.47 L946.20,54.65 L946.70,53.83 L947.20,53.03 L947.70,52.24 L948.20,51.46 L948.70,50.70 L949.20,49.95 L949.70,49.22 L950.20,48.50 L950.70,47.79 L951.20,47.10 L951.70,46.43 L952.20,45.77 L952.70,45.13 L953.20,44.50 L953.70,43.89 L954.20,43.30 L954.70,42.73 L955.20,42.17 L955.70,41.63 L956.20,41.11 L956.70,40.61 L957.20,40.12 L957.70,39.66 L958.20,39.21 L958.70,38.78 L959.20,38.38 L959.70,37.99 L960.20,37.62 L960.70,37.27 L961.20,36.94 L961.70,36.63 L962.20,36.35 L962.70,36.08 L963.20,35.83 L963.70,35.61 L964.20,35.40 L964.70,35.22 L965.20,35.05 L965.70,34.91 L966.20,34.79 L966.70,34.69 L967.20,34.61 L967.70,34.55 L968.20,34.52 L968.70,34.50 L969.20,34.51 L969.70,34.53 L970.20,34.58 L970.70,34.65 L971.20,34.75 L971.70,34.86 L972.20,34.99 L972.70,35.15 L973.20,35.32 L973.70,35.52 L974.20,35.74 L974.70,35.98 L975.20,36.24 L975.70,36.52 L976.20,36.82 L976.70,37.14 L977.20,37.48 L977.70,37.84 L978.20,38.22 L978.70,38.62 L979.20,39.04 L979.70,39.48 L980.20,39.94 L980.70,40.41 L981.20,40.91 L981.70,41.42 L982.20,41.95 L982.70,42.50 L983.20,43.07 L983.70,43.65 L984.20,44.26 L984.70,44.88 L985.20,45.51 L985.70,46.16 L986.20,46.83 L986.70,47.51 L987.20,48.21 L987.70,48.93 L988.20,49.66 L988.70,50.40 L989.20,51.16 L989.70,51.93 L990.20,52.71 L990.70,53.51 L991.20,54.32 L991.70,55.14 L992.20,55.97 L992.70,56.82 L993.20,57.68 L993.70,58.54 L994.20,59.42 L994.70,60.31 L995.20,61.21 L995.70,62.11 L996.20,63.03 L996.70,63.95 L997.20,64.88 L997.70,65.82 L998.20,66.77 L998.70,67.72 L999.20,68.68 L999.70,69.64 L1000.20,70.61 L1000.70,71.59 L1001.20,72.57 L1001.70,73.55 L1002.20,74.54 L1002.70,75.53 L1003.20,76.52 L1003.70,77.51" fill="none" stroke="#404040" stroke-width="0.9"/>
<path d="M857.80,80.60 L858.09,79.30 L858.48,77.24 L858.96,75.15 L859.47,73.73 L860.00,73.70 L860.55,75.81 L861.14,79.59 L861.76,83.91 L862.39,87.62 L863.00,89.60 L863.62,89.24 L864.25,87.30 L864.87,84.69 L865.46,82.29 L866.00,81.00 L866.45,81.26 L866.82,82.47 L867.18,83.98 L867.55,85.14 L868.00,85.30 L868.54,83.98 L869.15,81.60 L869.79,78.90 L870.42,76.62 L871.00,75.50 L871.54,75.95 L872.06,77.50 L872.56,79.49 L873.04,81.30 L873.50,82.30 L873.92,82.16 L874.29,81.31 L874.65,80.23 L875.04,79.40 L875.50,79.30 L876.04,80.32 L876.63,82.14 L877.25,84.17 L877.88,85.85 L878.50,86.60 L879.12,86.05 L879.75,84.60 L880.37,82.78 L880.96,81.13 L881.50,80.20 L881.95,80.27 L882.32,80.99 L882.68,81.91 L883.05,82.63 L883.50,82.70 L884.04,81.78 L884.63,80.17 L885.25,78.37 L885.88,76.90 L886.50,76.30 L887.12,76.90 L887.75,78.37 L888.37,80.17 L888.96,81.78 L889.50,82.70 L889.96,82.63 L890.35,81.93 L890.71,81.02 L891.08,80.30 L891.50,80.20 L891.95,81.06 L892.42,82.61 L892.90,84.32 L893.43,85.69 L894.00,86.20 L894.66,85.49 L895.40,83.91 L896.16,82.00 L896.88,80.28 L897.50,79.30 L897.99,79.36 L898.38,80.09 L898.74,81.05 L899.09,81.80 L899.50,81.90 L899.96,80.94 L900.44,79.21 L900.94,77.33 L901.46,75.89 L902.00,75.50 L902.58,76.65 L903.21,78.93 L903.85,81.62 L904.46,83.98 L905.00,85.30 L905.45,85.14 L905.82,83.98 L906.18,82.47 L906.55,81.26 L907.00,81.00 L907.54,82.29 L908.15,84.69 L908.79,87.30 L909.42,89.24 L910.00,89.60 L910.53,87.62 L911.04,83.89 L911.52,79.57 L912.01,75.79 L912.50,73.70 L913.00,74.08 L913.50,76.15 L913.99,78.77 L914.49,80.77 L915.00,81.00 L915.52,78.27 L916.07,73.35 L916.61,68.02 L917.12,64.08 L917.60,63.30 L918.03,66.53 L918.42,72.59 L918.78,80.19 L919.14,88.09 L919.50,95.00 L919.86,102.02 L920.22,110.00 L920.57,117.30 L920.93,122.28 L921.30,123.30 L921.69,119.17 L922.09,110.99 L922.50,100.54 L922.90,89.61 L923.30,80.00 L923.69,70.62 L924.08,60.28 L924.47,50.59 L924.84,43.19 L925.20,39.70 L925.54,41.25 L925.86,46.77 L926.17,54.53 L926.48,62.85 L926.80,70.00 L927.11,76.74 L927.42,84.22 L927.72,91.30 L928.05,96.84 L928.40,99.70 L928.79,98.91 L929.20,95.21 L929.63,90.09 L930.07,85.03 L930.50,81.50 L930.92,79.72 L931.32,78.69 L931.74,78.11 L932.19,77.66 L932.70,77.00 L933.29,75.98 L933.96,74.79 L934.65,73.71 L935.31,73.00 L935.90,72.90 L936.38,73.80 L936.80,75.51 L937.18,77.49 L937.57,79.18 L938.00,80.00 L938.47,79.50 L938.97,78.06 L939.48,76.36 L939.99,75.11 L940.50,75.00 L941.00,76.63 L941.50,79.54 L942.00,82.82 L942.50,85.61 L943.00,87.00 L943.49,86.49 L943.98,84.66 L944.46,82.30 L944.97,80.15 L945.50,79.00 L946.07,79.21 L946.66,80.26 L947.28,81.62 L947.89,82.71 L948.50,83.00 L949.11,82.06 L949.72,80.27 L950.34,78.25 L950.93,76.62 L951.50,76.00 L952.03,76.85 L952.54,78.74 L953.02,81.02 L953.51,82.99 L954.00,84.00 L954.49,83.64 L954.98,82.36 L955.46,80.76 L955.97,79.44 L956.50,79.00 L957.07,79.87 L957.66,81.66 L958.28,83.70 L958.89,85.37 L959.50,86.00 L960.11,85.14 L960.72,83.21 L961.34,80.91 L961.93,78.94 L962.50,78.00 L963.03,78.53 L963.54,80.06 L964.02,81.94 L964.51,83.47 L965.00,84.00 L965.49,83.02 L965.98,80.99 L966.46,78.65 L966.97,76.74 L967.50,76.00 L968.08,76.95 L968.69,79.10 L969.31,81.66 L969.92,83.89 L970.50,85.00 L971.03,84.60 L971.54,83.20 L972.02,81.40 L972.51,79.80 L973.00,79.00 L973.49,79.34 L973.98,80.41 L974.46,81.71 L974.97,82.74 L975.50,83.00 L976.08,82.10 L976.69,80.37 L977.31,78.39 L977.92,76.74 L978.50,76.00 L979.04,76.61 L979.56,78.19 L980.05,80.06 L980.53,81.56 L981.00,82.00 L981.38,80.86 L981.67,78.60 L981.98,75.99 L982.42,73.83 L983.10,72.90 L984.14,73.33 L985.48,74.60 L986.92,76.52 L988.26,78.88 L989.30,81.50 L989.99,85.29 L990.46,90.39 L990.79,95.41 L991.08,98.97 L991.40,99.70 L991.75,96.84 L992.08,91.30 L992.38,84.22 L992.69,76.74 L993.00,70.00 L993.32,62.85 L993.63,54.53 L993.94,46.77 L994.26,41.25 L994.60,39.70 L994.96,43.19 L995.33,50.59 L995.72,60.28 L996.11,70.62 L996.50,80.00 L996.90,89.61 L997.30,100.54 L997.71,110.99 L998.11,119.17 L998.50,123.30 L998.87,122.28 L999.23,117.30 L999.58,110.00 L999.94,102.02 L1000.30,95.00 L1000.68,88.15 L1001.07,80.39 L1001.46,72.87 L1001.84,66.79 L1002.20,63.30 L1002.56,63.35 L1002.94,66.17 L1003.29,70.33 L1003.59,74.41 L1003.80,77.00" fill="none" stroke="#f03434" stroke-width="0.8"/>
<line x1="857.2" y1="26.5" x2="857.2" y2="136.4" stroke="#b4b4b4" stroke-width="1.4"/>
<line x1="1003.8000000000001" y1="26.5" x2="1003.8000000000001" y2="136.4" stroke="#b4b4b4" stroke-width="1.4"/>
<line x1="856.5" y1="26.5" x2="1004.5000000000001" y2="26.5" stroke="#585858" stroke-width="1.2"/>
<line x1="856.5" y1="136.4" x2="1004.5000000000001" y2="136.4" stroke="#585858" stroke-width="1.2"/>
<rect x="624.1" y="15.7" width="386.9" height="357.1" fill="none" stroke="#1c1c1c" stroke-width="1.5"/>
<line x1="656.34" y1="372.8" x2="656.34" y2="369.8" stroke="#000" stroke-width="1.3"/>
<line x1="688.58" y1="372.8" x2="688.58" y2="367.8" stroke="#000" stroke-width="1.3"/>
<line x1="720.83" y1="372.8" x2="720.83" y2="369.8" stroke="#000" stroke-width="1.3"/>
<line x1="753.07" y1="372.8" x2="753.07" y2="367.8" stroke="#000" stroke-width="1.3"/>
<line x1="785.31" y1="372.8" x2="785.31" y2="369.8" stroke="#000" stroke-width="1.3"/>
<line x1="817.55" y1="372.8" x2="817.55" y2="367.8" stroke="#000" stroke-width="1.3"/>
<line x1="849.79" y1="372.8" x2="849.79" y2="369.8" stroke="#000" stroke-width="1.3"/>
<line x1="882.03" y1="372.8" x2="882.03" y2="367.8" stroke="#000" stroke-width="1.3"/>
<line x1="914.28" y1="372.8" x2="914.28" y2="369.8" stroke="#000" stroke-width="1.3"/>
<line x1="946.52" y1="372.8" x2="946.52" y2="367.8" stroke="#000" stroke-width="1.3"/>
<line x1="978.76" y1="372.8" x2="978.76" y2="369.8" stroke="#000" stroke-width="1.3"/>
<line x1="624.1" y1="104.97" x2="629.6" y2="104.97" stroke="#000" stroke-width="1.3"/>
<line x1="624.1" y1="194.25" x2="629.6" y2="194.25" stroke="#000" stroke-width="1.3"/>
<line x1="624.1" y1="283.52" x2="629.6" y2="283.52" stroke="#000" stroke-width="1.3"/>
<text x="623.30" y="403.8" font-family="Liberation Serif" stroke="#000" stroke-width="0.35" font-size="31" text-anchor="middle">5</text>
<text x="687.78" y="403.8" font-family="Liberation Serif" stroke="#000" stroke-width="0.35" font-size="31" text-anchor="middle">15</text>
<text x="752.27" y="403.8" font-family="Liberation Serif" stroke="#000" stroke-width="0.35" font-size="31" text-anchor="middle">25</text>
<text x="816.75" y="403.8" font-family="Liberation Serif" stroke="#000" stroke-width="0.35" font-size="31" text-anchor="middle">35</text>
<text x="881.23" y="403.8" font-family="Liberation Serif" stroke="#000" stroke-width="0.35" font-size="31" text-anchor="middle">45</text>
<text x="945.72" y="403.8" font-family="Liberation Serif" stroke="#000" stroke-width="0.35" font-size="31" text-anchor="middle">55</text>
<text x="1010.20" y="403.8" font-family="Liberation Serif" stroke="#000" stroke-width="0.35" font-size="31" text-anchor="middle">65</text>
<text x="617.1" y="27.70" font-family="Liberation Serif" stroke="#000" stroke-width="0.35" font-size="32" text-anchor="end">10<tspan font-size="21.5" dx="-1.2" dy="-13">-5</tspan></text>
<text x="617.1" y="116.97" font-family="Liberation Serif" stroke="#000" stroke-width="0.35" font-size="32" text-anchor="end">10<tspan font-size="21.5" dx="-1.2" dy="-13">-7</tspan></text>
<text x="617.1" y="206.25" font-family="Liberation Serif" stroke="#000" stroke-width="0.35" font-size="32" text-anchor="end">10<tspan font-size="21.5" dx="-1.2" dy="-13">-9</tspan></text>
<text x="617.1" y="295.52" font-family="Liberation Serif" stroke="#000" stroke-width="0.35" font-size="32" text-anchor="end">10<tspan font-size="21.5" dx="-1.2" dy="-13">-11</tspan></text>
<text x="617.1" y="384.80" font-family="Liberation Serif" stroke="#000" stroke-width="0.35" font-size="32" text-anchor="end">10<tspan font-size="21.5" dx="-1.2" dy="-13">-13</tspan></text>
<text x="629" y="59.2" font-family="Liberation Serif" stroke="#000" stroke-width="0.35" font-size="42.5">(b)</text>
<text x="673.4" y="457.8" font-family="Liberation Serif" stroke="#000" stroke-width="0.35" font-size="36.5">Harmonic order (n)</text>
<text transform="translate(26,349.2) rotate(-90)" font-family="Liberation Serif" stroke="#000" stroke-width="0.35" font-size="36.8">Intensity (arb. Units)</text>
</svg></body></html>
